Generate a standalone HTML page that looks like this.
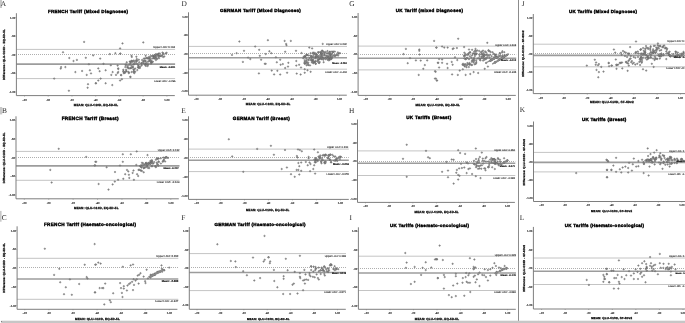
<!DOCTYPE html>
<html><head><meta charset="utf-8"><style>
html,body{margin:0;padding:0;background:#fff;}
body{width:685px;height:323px;overflow:hidden;position:relative;}
svg{position:absolute;left:0;top:0;display:block;filter:grayscale(1) blur(0.3px);}
text{font-family:"Liberation Sans",sans-serif;fill:#222;text-rendering:geometricPrecision;}
.let{font-family:"Liberation Serif",serif;font-size:7.4px;fill:#2a2a2a;}
.tit{font-weight:bold;font-size:5px;fill:#000;stroke:#000;stroke-width:0.4px;}
.tl{font-size:2.9px;font-weight:bold;fill:#333;stroke:#333;stroke-width:0.12px;}
.an{font-size:2.6px;fill:#333;stroke:#333;stroke-width:0.1px;}
.anb{font-size:2.8px;font-weight:bold;fill:#111;stroke:#111;stroke-width:0.15px;}
.xl{font-size:3.3px;font-weight:bold;fill:#111;stroke:#111;stroke-width:0.28px;}
.ax{fill:none;stroke:#777;stroke-width:0.95;}
.tk{stroke:#777;stroke-width:0.5;}
.loa{stroke:#c4c4c4;stroke-width:1.0;}
.zer{stroke:#9a9a9a;stroke-width:0.8;stroke-dasharray:1 1;}
.mn{stroke:#9c9c9c;stroke-width:1.6;}
circle{fill:#999;stroke:#555;stroke-width:0.4;}
.stk{stroke:#8a8a8a;stroke-linecap:round;}
</style></head>
<body><svg width="685" height="323" viewBox="0 0 685 323" xmlns="http://www.w3.org/2000/svg">
<rect x="0" y="0" width="685" height="323" fill="#fff"/>
<line x1="518.5" x2="518.5" y1="0" y2="321" stroke="#8c8c8c" stroke-width="1"/>
<rect x="0" y="0" width="2.0" height="8.0" fill="#c8c8c8"/>
<rect x="0" y="107" width="2.2" height="7.4" fill="#c8c8c8"/>
<rect x="0" y="210.9" width="1.6" height="10.8" fill="#c8c8c8"/>
<text x="0.8" y="5.95" class="let">A</text>
<text x="47.9" y="12.9" class="tit" style="font-size:4.516px" textLength="80.2" lengthAdjust="spacing">FRENCH Tariff (Mixed Diagnoses)</text>
<line x1="16.4" x2="175.1" y1="49.4" y2="49.4" class="loa"/>
<line x1="16.4" x2="175.1" y1="78.6" y2="78.6" class="loa"/>
<line x1="18" x2="175.1" y1="54.5" y2="54.5" class="zer"/>
<line x1="16.4" x2="175.1" y1="64.1" y2="64.1" class="mn"/>
<line x1="15.4" x2="16.4" y1="17.6" y2="17.6" class="tk"/>
<text x="15.3" y="18.55" class="tl" style="font-size:2.7px" text-anchor="end">1.00</text>
<line x1="15.4" x2="16.4" y1="36.23" y2="36.23" class="tk"/>
<text x="15.3" y="37.18" class="tl" style="font-size:2.7px" text-anchor="end">.50</text>
<line x1="15.4" x2="16.4" y1="54.85" y2="54.85" class="tk"/>
<text x="15.3" y="55.8" class="tl" style="font-size:2.7px" text-anchor="end">.00</text>
<line x1="15.4" x2="16.4" y1="73.47" y2="73.47" class="tk"/>
<text x="15.3" y="74.42" class="tl" style="font-size:2.7px" text-anchor="end">-.50</text>
<line x1="15.4" x2="16.4" y1="92.1" y2="92.1" class="tk"/>
<text x="15.3" y="93.05" class="tl" style="font-size:2.7px" text-anchor="end">-1.00</text>
<line x1="24.5" x2="24.5" y1="95.6" y2="96.6" class="tk"/>
<text x="24.5" y="100.5" class="tl" style="font-size:2.7px" text-anchor="middle">-.20</text>
<line x1="48.23" x2="48.23" y1="95.6" y2="96.6" class="tk"/>
<text x="48.23" y="100.5" class="tl" style="font-size:2.7px" text-anchor="middle">.00</text>
<line x1="71.97" x2="71.97" y1="95.6" y2="96.6" class="tk"/>
<text x="71.97" y="100.5" class="tl" style="font-size:2.7px" text-anchor="middle">.20</text>
<line x1="95.7" x2="95.7" y1="95.6" y2="96.6" class="tk"/>
<text x="95.7" y="100.5" class="tl" style="font-size:2.7px" text-anchor="middle">.40</text>
<line x1="119.43" x2="119.43" y1="95.6" y2="96.6" class="tk"/>
<text x="119.43" y="100.5" class="tl" style="font-size:2.7px" text-anchor="middle">.60</text>
<line x1="143.17" x2="143.17" y1="95.6" y2="96.6" class="tk"/>
<text x="143.17" y="100.5" class="tl" style="font-size:2.7px" text-anchor="middle">.80</text>
<line x1="166.9" x2="166.9" y1="95.6" y2="96.6" class="tk"/>
<text x="166.9" y="100.5" class="tl" style="font-size:2.7px" text-anchor="middle">1.00</text>
<circle cx="84.1" cy="41.9" r="0.75"/>
<circle cx="63" cy="52.3" r="0.75"/>
<circle cx="69.3" cy="58" r="0.75"/>
<circle cx="85.8" cy="57.8" r="0.75"/>
<circle cx="93.2" cy="55.4" r="0.75"/>
<circle cx="73.5" cy="61" r="0.75"/>
<circle cx="76.9" cy="59.9" r="0.75"/>
<circle cx="88.9" cy="64.3" r="0.75"/>
<circle cx="61.1" cy="67.1" r="0.75"/>
<circle cx="60.7" cy="68.6" r="0.75"/>
<circle cx="65.4" cy="67.1" r="0.75"/>
<circle cx="75.4" cy="72.1" r="0.75"/>
<circle cx="82.1" cy="71" r="0.75"/>
<circle cx="89.9" cy="70.3" r="0.75"/>
<circle cx="91" cy="73.4" r="0.75"/>
<circle cx="86.7" cy="74.9" r="0.75"/>
<circle cx="54.2" cy="78.6" r="0.75"/>
<circle cx="88" cy="84.2" r="0.75"/>
<circle cx="87.6" cy="87.7" r="0.75"/>
<circle cx="68.9" cy="90.7" r="0.75"/>
<circle cx="95.8" cy="83.3" r="0.75"/>
<circle cx="122.5" cy="43.4" r="0.75"/>
<circle cx="143.3" cy="42.4" r="0.75"/>
<circle cx="120.1" cy="48.4" r="0.75"/>
<circle cx="109.8" cy="54.1" r="0.75"/>
<circle cx="115.4" cy="53.2" r="0.75"/>
<circle cx="120.4" cy="53.6" r="0.75"/>
<circle cx="100.2" cy="58.6" r="0.75"/>
<circle cx="103.5" cy="63.8" r="0.75"/>
<circle cx="110.8" cy="65.3" r="0.75"/>
<circle cx="117.6" cy="65.6" r="0.75"/>
<circle cx="98.3" cy="68.4" r="0.75"/>
<circle cx="99.6" cy="71.2" r="0.75"/>
<circle cx="105.6" cy="70.3" r="0.75"/>
<circle cx="112.6" cy="72.1" r="0.75"/>
<circle cx="111.3" cy="74.9" r="0.75"/>
<circle cx="116" cy="74.9" r="0.75"/>
<circle cx="117.6" cy="73" r="0.75"/>
<circle cx="118.2" cy="68.4" r="0.75"/>
<circle cx="100.6" cy="78.6" r="0.75"/>
<circle cx="98.3" cy="80.5" r="0.75"/>
<circle cx="95.9" cy="83.3" r="0.75"/>
<circle cx="105.6" cy="83.3" r="0.75"/>
<circle cx="112.3" cy="85.1" r="0.75"/>
<circle cx="120.1" cy="80.5" r="0.75"/>
<circle cx="121.9" cy="79.2" r="0.75"/>
<circle cx="130.3" cy="76.8" r="0.75"/>
<circle cx="121" cy="74.9" r="0.75"/>
<circle cx="131.8" cy="56.9" r="0.75"/>
<circle cx="136.8" cy="59.1" r="0.75"/>
<circle cx="120.2" cy="53.7" r="0.75"/>
<circle cx="131.5" cy="55.8" r="0.75"/>
<circle cx="136.4" cy="56.7" r="0.75"/>
<circle cx="145.6" cy="55.8" r="0.75"/>
<circle cx="126.7" cy="62.3" r="0.75"/>
<circle cx="118.3" cy="69" r="0.75"/>
<circle cx="118.3" cy="72" r="0.75"/>
<circle cx="121.2" cy="75.3" r="0.75"/>
<circle cx="130.5" cy="77" r="0.75"/>
<circle cx="134.3" cy="73.2" r="0.75"/>
<circle cx="143.4" cy="62.9" r="0.75"/>
<circle cx="130.5" cy="63" r="0.75"/>
<circle cx="158.5" cy="53.6" r="0.75"/>
<circle cx="126.2" cy="69.7" r="0.75"/>
<circle cx="143.3" cy="61.4" r="0.75"/>
<circle cx="145.9" cy="65.9" r="0.75"/>
<circle cx="152.5" cy="61.8" r="0.75"/>
<circle cx="154.6" cy="58.6" r="0.75"/>
<circle cx="131.6" cy="72" r="0.75"/>
<circle cx="156.9" cy="54.2" r="0.75"/>
<circle cx="130.2" cy="64.1" r="0.75"/>
<circle cx="130.8" cy="68" r="0.75"/>
<circle cx="159" cy="58.3" r="0.75"/>
<circle cx="126.1" cy="64.6" r="0.75"/>
<circle cx="149.7" cy="59.9" r="0.75"/>
<circle cx="161.9" cy="55.6" r="0.75"/>
<circle cx="149.8" cy="61" r="0.75"/>
<circle cx="123.8" cy="73.2" r="0.75"/>
<circle cx="154.4" cy="57.3" r="0.75"/>
<circle cx="149.4" cy="58.1" r="0.75"/>
<circle cx="151.3" cy="62.4" r="0.75"/>
<circle cx="150.7" cy="60.1" r="0.75"/>
<circle cx="139.9" cy="68" r="0.75"/>
<circle cx="153.2" cy="56.1" r="0.75"/>
<circle cx="148.8" cy="58.6" r="0.75"/>
<circle cx="129.8" cy="61.6" r="0.75"/>
<circle cx="131.8" cy="60.8" r="0.75"/>
<circle cx="144.7" cy="58.6" r="0.75"/>
<circle cx="123.4" cy="71.1" r="0.75"/>
<circle cx="150.9" cy="61.5" r="0.75"/>
<circle cx="153.5" cy="56" r="0.75"/>
<circle cx="154.9" cy="55.5" r="0.75"/>
<circle cx="137.9" cy="67.2" r="0.75"/>
<circle cx="152" cy="56.1" r="0.75"/>
<circle cx="123.3" cy="69.7" r="0.75"/>
<circle cx="158.8" cy="55.4" r="0.75"/>
<circle cx="158.2" cy="54.7" r="0.75"/>
<circle cx="165.7" cy="53.4" r="0.75"/>
<circle cx="146.2" cy="58" r="0.75"/>
<circle cx="151.4" cy="63.3" r="0.75"/>
<circle cx="147.8" cy="58.5" r="0.75"/>
<circle cx="145.1" cy="65.1" r="0.75"/>
<circle cx="134.4" cy="62.1" r="0.75"/>
<circle cx="143.9" cy="58.6" r="0.75"/>
<circle cx="132.5" cy="67" r="0.75"/>
<circle cx="138.3" cy="65.4" r="0.75"/>
<circle cx="155.6" cy="54.3" r="0.75"/>
<circle cx="142.1" cy="60" r="0.75"/>
<circle cx="162.8" cy="54.5" r="0.75"/>
<circle cx="155.4" cy="57.3" r="0.75"/>
<circle cx="153.5" cy="55.8" r="0.75"/>
<circle cx="145.7" cy="64.3" r="0.75"/>
<circle cx="124.8" cy="72.9" r="0.75"/>
<circle cx="157.2" cy="58.9" r="0.75"/>
<circle cx="145.7" cy="61.2" r="0.75"/>
<circle cx="130.3" cy="61.7" r="0.75"/>
<circle cx="151" cy="60.6" r="0.75"/>
<circle cx="133.9" cy="72" r="0.75"/>
<circle cx="133.8" cy="60.5" r="0.75"/>
<circle cx="133.5" cy="71.9" r="0.75"/>
<circle cx="125.5" cy="64.9" r="0.75"/>
<circle cx="124.1" cy="72.4" r="0.75"/>
<circle cx="141.4" cy="63.4" r="0.75"/>
<circle cx="147.8" cy="57.9" r="0.75"/>
<circle cx="125.4" cy="71.9" r="0.75"/>
<circle cx="152.7" cy="61.7" r="0.75"/>
<circle cx="148.8" cy="60.9" r="0.75"/>
<circle cx="155.8" cy="56.9" r="0.75"/>
<circle cx="148" cy="64.8" r="0.75"/>
<circle cx="156.7" cy="55.8" r="0.75"/>
<circle cx="141.6" cy="65.5" r="0.75"/>
<circle cx="139.2" cy="62.3" r="0.75"/>
<circle cx="137" cy="63.8" r="0.75"/>
<circle cx="126.5" cy="71.2" r="0.75"/>
<circle cx="153.5" cy="58.2" r="0.75"/>
<circle cx="153.9" cy="57.9" r="0.75"/>
<circle cx="138.5" cy="67.8" r="0.75"/>
<circle cx="127.4" cy="67.5" r="0.75"/>
<circle cx="163.2" cy="57.1" r="0.75"/>
<circle cx="138.8" cy="59.7" r="0.75"/>
<circle cx="145.7" cy="63.7" r="0.75"/>
<circle cx="163.4" cy="53.4" r="0.75"/>
<circle cx="128.6" cy="68.3" r="0.75"/>
<circle cx="144.7" cy="63.6" r="0.75"/>
<circle cx="131.4" cy="61.1" r="0.75"/>
<circle cx="166.6" cy="52.8" r="0.75"/>
<circle cx="127.3" cy="66.1" r="0.75"/>
<circle cx="132.8" cy="67.6" r="0.75"/>
<circle cx="129.9" cy="68.5" r="0.75"/>
<circle cx="146.3" cy="63.1" r="0.75"/>
<circle cx="133.9" cy="71.1" r="0.75"/>
<circle cx="159.8" cy="53.4" r="0.75"/>
<circle cx="160" cy="56.2" r="0.75"/>
<circle cx="136.1" cy="62" r="0.75"/>
<circle cx="138.5" cy="67" r="0.75"/>
<circle cx="139.3" cy="67.5" r="0.75"/>
<circle cx="147.9" cy="61.8" r="0.75"/>
<circle cx="150.3" cy="58" r="0.75"/>
<circle cx="146.8" cy="58.2" r="0.75"/>
<circle cx="140" cy="66.5" r="0.75"/>
<circle cx="131.2" cy="68" r="0.75"/>
<circle cx="137.3" cy="70.1" r="0.75"/>
<circle cx="154.6" cy="55.5" r="0.75"/>
<circle cx="141.6" cy="63" r="0.75"/>
<circle cx="137.2" cy="60.8" r="0.75"/>
<circle cx="160.4" cy="55.9" r="0.75"/>
<circle cx="150.8" cy="56" r="0.75"/>
<circle cx="133.3" cy="64.5" r="0.75"/>
<circle cx="128.2" cy="71.8" r="0.75"/>
<circle cx="147.8" cy="64.1" r="0.75"/>
<circle cx="135.3" cy="71.7" r="0.75"/>
<circle cx="152.3" cy="58.4" r="0.75"/>
<circle cx="155.9" cy="60.1" r="0.75"/>
<circle cx="134.1" cy="64.3" r="0.75"/>
<circle cx="128.7" cy="73.1" r="0.75"/>
<circle cx="143.6" cy="60.8" r="0.75"/>
<circle cx="156.6" cy="58.4" r="0.75"/>
<circle cx="145.1" cy="60.4" r="0.75"/>
<circle cx="136.1" cy="60.4" r="0.75"/>
<circle cx="159" cy="56.5" r="0.75"/>
<circle cx="158.4" cy="54.3" r="0.75"/>
<circle cx="138.4" cy="64.7" r="0.75"/>
<circle cx="123.4" cy="71.7" r="0.75"/>
<circle cx="131.3" cy="65.7" r="0.75"/>
<circle cx="162.5" cy="52.6" r="0.75"/>
<circle cx="155.4" cy="58.5" r="0.75"/>
<circle cx="154.7" cy="55.9" r="0.75"/>
<circle cx="132.8" cy="66.5" r="0.75"/>
<circle cx="149.1" cy="56.7" r="0.75"/>
<circle cx="142.3" cy="63.4" r="0.75"/>
<circle cx="133.5" cy="69.6" r="0.75"/>
<circle cx="135.1" cy="68.5" r="0.75"/>
<circle cx="134.8" cy="63.8" r="0.75"/>
<circle cx="147.6" cy="66" r="0.75"/>
<circle cx="157.9" cy="55.2" r="0.75"/>
<circle cx="132.8" cy="61.4" r="0.75"/>
<circle cx="144.8" cy="61.3" r="0.75"/>
<circle cx="134.1" cy="69.5" r="0.75"/>
<circle cx="158.4" cy="56.9" r="0.75"/>
<circle cx="150.6" cy="63.3" r="0.75"/>
<circle cx="131.9" cy="62" r="0.75"/>
<circle cx="161.7" cy="56.1" r="0.75"/>
<circle cx="125.3" cy="67.1" r="0.75"/>
<circle cx="154.9" cy="57.5" r="0.75"/>
<circle cx="129.1" cy="72.6" r="0.75"/>
<circle cx="125.8" cy="71.4" r="0.75"/>
<circle cx="128.9" cy="64.9" r="0.75"/>
<circle cx="136.4" cy="61" r="0.75"/>
<circle cx="128.3" cy="67.4" r="0.75"/>
<circle cx="164.3" cy="56.4" r="0.75"/>
<path d="M16.4 13.2V95.6H174.8" class="ax"/>
<text x="153.3" y="48.15" class="an" style="font-size:2.705px" textLength="21.8" lengthAdjust="spacingAndGlyphs">Upper LOA: 0.134</text>
<text x="159.7" y="67.75" class="anb" style="font-size:2.566px" textLength="15.4" lengthAdjust="spacingAndGlyphs">Mean: -0.081</text>
<text x="154" y="82.25" class="an" style="font-size:2.561px" textLength="21.5" lengthAdjust="spacingAndGlyphs">Lower LOA: -0.296</text>
<text x="73.8" y="105.75" class="xl" style="font-size:3.008px" textLength="44.2" lengthAdjust="spacing">MEAN: QLU-C10D, EQ-5D-5L</text>
<text x="0" y="0" class="xl" style="font-size:2.957px" textLength="50.7" lengthAdjust="spacing" transform="translate(4.95 80) rotate(-90)">Difference: QLU-C10D - EQ-5D-5L</text>
<text x="181.4" y="5.95" class="let">D</text>
<text x="219.9" y="12.3" class="tit" style="font-size:4.478px" textLength="80.9" lengthAdjust="spacing">GERMAN Tariff (Mixed Diagnoses)</text>
<line x1="188.5" x2="347" y1="46.4" y2="46.4" class="loa"/>
<line x1="188.5" x2="347" y1="69.2" y2="69.2" class="loa"/>
<line x1="190" x2="347" y1="53.5" y2="53.5" class="zer"/>
<line x1="188.5" x2="347" y1="57.7" y2="57.7" class="mn"/>
<line x1="187.5" x2="188.5" y1="16.7" y2="16.7" class="tk"/>
<text x="187.4" y="17.65" class="tl" style="font-size:2.7px" text-anchor="end">1.00</text>
<line x1="187.5" x2="188.5" y1="35.35" y2="35.35" class="tk"/>
<text x="187.4" y="36.3" class="tl" style="font-size:2.7px" text-anchor="end">.50</text>
<line x1="187.5" x2="188.5" y1="54" y2="54" class="tk"/>
<text x="187.4" y="54.95" class="tl" style="font-size:2.7px" text-anchor="end">.00</text>
<line x1="187.5" x2="188.5" y1="72.65" y2="72.65" class="tk"/>
<text x="187.4" y="73.6" class="tl" style="font-size:2.7px" text-anchor="end">-.50</text>
<line x1="187.5" x2="188.5" y1="91.3" y2="91.3" class="tk"/>
<text x="187.4" y="92.25" class="tl" style="font-size:2.7px" text-anchor="end">-1.00</text>
<line x1="196.3" x2="196.3" y1="95.2" y2="96.2" class="tk"/>
<text x="196.3" y="100.1" class="tl" style="font-size:2.7px" text-anchor="middle">-.20</text>
<line x1="220.17" x2="220.17" y1="95.2" y2="96.2" class="tk"/>
<text x="220.17" y="100.1" class="tl" style="font-size:2.7px" text-anchor="middle">.00</text>
<line x1="244.03" x2="244.03" y1="95.2" y2="96.2" class="tk"/>
<text x="244.03" y="100.1" class="tl" style="font-size:2.7px" text-anchor="middle">.20</text>
<line x1="267.9" x2="267.9" y1="95.2" y2="96.2" class="tk"/>
<text x="267.9" y="100.1" class="tl" style="font-size:2.7px" text-anchor="middle">.40</text>
<line x1="291.77" x2="291.77" y1="95.2" y2="96.2" class="tk"/>
<text x="291.77" y="100.1" class="tl" style="font-size:2.7px" text-anchor="middle">.60</text>
<line x1="315.63" x2="315.63" y1="95.2" y2="96.2" class="tk"/>
<text x="315.63" y="100.1" class="tl" style="font-size:2.7px" text-anchor="middle">.80</text>
<line x1="339.5" x2="339.5" y1="95.2" y2="96.2" class="tk"/>
<text x="339.5" y="100.1" class="tl" style="font-size:2.7px" text-anchor="middle">1.00</text>
<circle cx="239.4" cy="41.5" r="0.75"/>
<circle cx="255.2" cy="46.5" r="0.75"/>
<circle cx="259.2" cy="49.8" r="0.75"/>
<circle cx="244" cy="50.8" r="0.75"/>
<circle cx="232" cy="54.9" r="0.75"/>
<circle cx="236.6" cy="53.2" r="0.75"/>
<circle cx="259.8" cy="55.8" r="0.75"/>
<circle cx="248.1" cy="57.6" r="0.75"/>
<circle cx="250.3" cy="59.1" r="0.75"/>
<circle cx="261.1" cy="59.7" r="0.75"/>
<circle cx="242.9" cy="61.9" r="0.75"/>
<circle cx="258.9" cy="73.4" r="0.75"/>
<circle cx="264.8" cy="63.8" r="0.75"/>
<circle cx="267.9" cy="40.2" r="0.75"/>
<circle cx="284.6" cy="40.9" r="0.75"/>
<circle cx="290.8" cy="40.9" r="0.75"/>
<circle cx="286.1" cy="43.9" r="0.75"/>
<circle cx="286.5" cy="45.2" r="0.75"/>
<circle cx="309.3" cy="47.6" r="0.75"/>
<circle cx="312.1" cy="48.4" r="0.75"/>
<circle cx="322.7" cy="43.9" r="0.75"/>
<circle cx="269.4" cy="51.3" r="0.75"/>
<circle cx="271.3" cy="53.2" r="0.75"/>
<circle cx="265.7" cy="54.1" r="0.75"/>
<circle cx="285.2" cy="51.7" r="0.75"/>
<circle cx="296" cy="50.8" r="0.75"/>
<circle cx="301.5" cy="53" r="0.75"/>
<circle cx="306.5" cy="54.5" r="0.75"/>
<circle cx="310.6" cy="53.2" r="0.75"/>
<circle cx="275.9" cy="57.3" r="0.75"/>
<circle cx="280.2" cy="59.7" r="0.75"/>
<circle cx="276.8" cy="62.3" r="0.75"/>
<circle cx="265.7" cy="63.8" r="0.75"/>
<circle cx="280.6" cy="64.7" r="0.75"/>
<circle cx="282.8" cy="64.1" r="0.75"/>
<circle cx="288.4" cy="62.8" r="0.75"/>
<circle cx="288" cy="66.6" r="0.75"/>
<circle cx="285.2" cy="68" r="0.75"/>
<circle cx="296.3" cy="61" r="0.75"/>
<circle cx="296.3" cy="65.6" r="0.75"/>
<circle cx="299.1" cy="64.7" r="0.75"/>
<circle cx="301" cy="67.5" r="0.75"/>
<circle cx="304.7" cy="69.3" r="0.75"/>
<circle cx="307.5" cy="70.3" r="0.75"/>
<circle cx="310.6" cy="71.8" r="0.75"/>
<circle cx="271.7" cy="70.6" r="0.75"/>
<circle cx="277.4" cy="70.8" r="0.75"/>
<circle cx="274.1" cy="74.4" r="0.75"/>
<circle cx="280.2" cy="74.5" r="0.75"/>
<circle cx="287.1" cy="72.7" r="0.75"/>
<circle cx="296.7" cy="73.6" r="0.75"/>
<circle cx="300.6" cy="74.5" r="0.75"/>
<circle cx="304.7" cy="72.7" r="0.75"/>
<circle cx="311.4" cy="59.8" r="0.75"/>
<circle cx="318.8" cy="56.1" r="0.75"/>
<circle cx="317.1" cy="55.1" r="0.75"/>
<circle cx="313.1" cy="52.5" r="0.75"/>
<circle cx="320.6" cy="52.6" r="0.75"/>
<circle cx="318.5" cy="52.3" r="0.75"/>
<circle cx="329.2" cy="58.6" r="0.75"/>
<circle cx="304.9" cy="56.3" r="0.75"/>
<circle cx="321.3" cy="59.1" r="0.75"/>
<circle cx="314.9" cy="53.9" r="0.75"/>
<circle cx="315.7" cy="63.8" r="0.75"/>
<circle cx="312.5" cy="60.4" r="0.75"/>
<circle cx="318.1" cy="56.4" r="0.75"/>
<circle cx="321.8" cy="54.8" r="0.75"/>
<circle cx="311.2" cy="60.5" r="0.75"/>
<circle cx="311.6" cy="57.7" r="0.75"/>
<circle cx="323.3" cy="59.7" r="0.75"/>
<circle cx="315.7" cy="63.7" r="0.75"/>
<circle cx="326.1" cy="57.6" r="0.75"/>
<circle cx="316.5" cy="54.4" r="0.75"/>
<circle cx="322.8" cy="53.7" r="0.75"/>
<circle cx="314.8" cy="52.8" r="0.75"/>
<circle cx="306.4" cy="60.9" r="0.75"/>
<circle cx="319.7" cy="62" r="0.75"/>
<circle cx="332.8" cy="56.1" r="0.75"/>
<circle cx="312.1" cy="61.1" r="0.75"/>
<circle cx="315.2" cy="61.8" r="0.75"/>
<circle cx="329.4" cy="59.7" r="0.75"/>
<circle cx="332.9" cy="51.9" r="0.75"/>
<circle cx="327.9" cy="53.6" r="0.75"/>
<circle cx="318.4" cy="59.8" r="0.75"/>
<circle cx="329.6" cy="51.8" r="0.75"/>
<circle cx="307.1" cy="55.1" r="0.75"/>
<circle cx="323.1" cy="57.5" r="0.75"/>
<circle cx="314.2" cy="62.4" r="0.75"/>
<circle cx="313.3" cy="56.1" r="0.75"/>
<circle cx="328.9" cy="58.5" r="0.75"/>
<circle cx="338" cy="53.9" r="0.75"/>
<circle cx="307.1" cy="55" r="0.75"/>
<circle cx="324" cy="52.2" r="0.75"/>
<circle cx="312.9" cy="53.5" r="0.75"/>
<circle cx="316.4" cy="54" r="0.75"/>
<circle cx="304.9" cy="63.8" r="0.75"/>
<circle cx="320.9" cy="56.4" r="0.75"/>
<circle cx="327.5" cy="59.7" r="0.75"/>
<circle cx="319.3" cy="62.9" r="0.75"/>
<circle cx="331.1" cy="54.8" r="0.75"/>
<circle cx="317.8" cy="60.9" r="0.75"/>
<circle cx="311.1" cy="56" r="0.75"/>
<circle cx="326.7" cy="55.5" r="0.75"/>
<circle cx="336.9" cy="55" r="0.75"/>
<circle cx="315.2" cy="61.5" r="0.75"/>
<circle cx="330.7" cy="58.5" r="0.75"/>
<circle cx="315.8" cy="56.7" r="0.75"/>
<circle cx="321.6" cy="56.3" r="0.75"/>
<circle cx="336" cy="55" r="0.75"/>
<circle cx="306.6" cy="65.3" r="0.75"/>
<circle cx="339.1" cy="53.4" r="0.75"/>
<circle cx="329.3" cy="52.8" r="0.75"/>
<circle cx="308.1" cy="59.8" r="0.75"/>
<circle cx="327" cy="53.3" r="0.75"/>
<circle cx="321.7" cy="58.8" r="0.75"/>
<circle cx="327.8" cy="56.5" r="0.75"/>
<circle cx="311.2" cy="59.3" r="0.75"/>
<circle cx="322.1" cy="50.5" r="0.75"/>
<circle cx="319.5" cy="59.2" r="0.75"/>
<circle cx="337.9" cy="52.4" r="0.75"/>
<circle cx="321.2" cy="53.6" r="0.75"/>
<circle cx="305" cy="63.5" r="0.75"/>
<circle cx="312" cy="62.5" r="0.75"/>
<circle cx="313.1" cy="60" r="0.75"/>
<circle cx="323.6" cy="62.2" r="0.75"/>
<circle cx="331.8" cy="58.5" r="0.75"/>
<circle cx="332.8" cy="52.4" r="0.75"/>
<circle cx="340" cy="53.2" r="0.75"/>
<circle cx="327.9" cy="56.7" r="0.75"/>
<circle cx="315.4" cy="54.9" r="0.75"/>
<circle cx="313.1" cy="59.3" r="0.75"/>
<circle cx="320.2" cy="52" r="0.75"/>
<circle cx="310" cy="65.4" r="0.75"/>
<circle cx="330.5" cy="55.6" r="0.75"/>
<circle cx="318" cy="52.3" r="0.75"/>
<circle cx="318.6" cy="62.7" r="0.75"/>
<circle cx="315.7" cy="60.9" r="0.75"/>
<circle cx="324.5" cy="54.4" r="0.75"/>
<circle cx="313.4" cy="63.2" r="0.75"/>
<circle cx="330.7" cy="59.3" r="0.75"/>
<circle cx="304.9" cy="56.5" r="0.75"/>
<circle cx="328.9" cy="60.4" r="0.75"/>
<circle cx="312.1" cy="56.5" r="0.75"/>
<circle cx="323.2" cy="51.5" r="0.75"/>
<circle cx="305.9" cy="55.6" r="0.75"/>
<circle cx="326.6" cy="57.3" r="0.75"/>
<circle cx="320.2" cy="54.9" r="0.75"/>
<circle cx="305" cy="57.2" r="0.75"/>
<circle cx="310.5" cy="55.7" r="0.75"/>
<circle cx="317.5" cy="61.5" r="0.75"/>
<circle cx="308.8" cy="60.1" r="0.75"/>
<circle cx="330.7" cy="53.9" r="0.75"/>
<circle cx="315.8" cy="58.3" r="0.75"/>
<circle cx="306.7" cy="62.2" r="0.75"/>
<circle cx="321.8" cy="51.9" r="0.75"/>
<circle cx="313.7" cy="62.1" r="0.75"/>
<circle cx="319.7" cy="58.7" r="0.75"/>
<circle cx="334.8" cy="51.6" r="0.75"/>
<circle cx="308.4" cy="65" r="0.75"/>
<circle cx="317.9" cy="59.5" r="0.75"/>
<circle cx="308.3" cy="62.7" r="0.75"/>
<circle cx="329.6" cy="52.4" r="0.75"/>
<circle cx="304.3" cy="56.5" r="0.75"/>
<circle cx="315" cy="57.6" r="0.75"/>
<circle cx="313.9" cy="61.5" r="0.75"/>
<circle cx="316.5" cy="56.7" r="0.75"/>
<circle cx="316.1" cy="56.7" r="0.75"/>
<circle cx="304.4" cy="63" r="0.75"/>
<circle cx="322.6" cy="58.5" r="0.75"/>
<circle cx="314.4" cy="57.5" r="0.75"/>
<circle cx="331" cy="57.6" r="0.75"/>
<circle cx="325.2" cy="55.7" r="0.75"/>
<circle cx="325.6" cy="59.1" r="0.75"/>
<circle cx="321.4" cy="58" r="0.75"/>
<circle cx="312.8" cy="62.3" r="0.75"/>
<circle cx="335.2" cy="56.2" r="0.75"/>
<circle cx="334.1" cy="55.1" r="0.75"/>
<circle cx="304.7" cy="61.8" r="0.75"/>
<circle cx="331.1" cy="59" r="0.75"/>
<circle cx="330.5" cy="56.5" r="0.75"/>
<circle cx="332.2" cy="56.8" r="0.75"/>
<circle cx="316.9" cy="56.9" r="0.75"/>
<circle cx="327.8" cy="58.5" r="0.75"/>
<circle cx="318.3" cy="58.3" r="0.75"/>
<circle cx="307.2" cy="63.5" r="0.75"/>
<circle cx="303.7" cy="56.7" r="0.75"/>
<circle cx="328.7" cy="56" r="0.75"/>
<circle cx="306.5" cy="61.5" r="0.75"/>
<circle cx="324.8" cy="53.1" r="0.75"/>
<circle cx="308.7" cy="55.4" r="0.75"/>
<circle cx="322.3" cy="56" r="0.75"/>
<circle cx="334.5" cy="55.6" r="0.75"/>
<circle cx="329" cy="53.6" r="0.75"/>
<circle cx="330.3" cy="58.9" r="0.75"/>
<circle cx="304.9" cy="62.8" r="0.75"/>
<circle cx="329.7" cy="56.7" r="0.75"/>
<circle cx="319.8" cy="57.5" r="0.75"/>
<circle cx="331.1" cy="51.6" r="0.75"/>
<circle cx="324.1" cy="58.5" r="0.75"/>
<circle cx="308.3" cy="64.7" r="0.75"/>
<circle cx="333.1" cy="51.5" r="0.75"/>
<circle cx="325.7" cy="51.9" r="0.75"/>
<circle cx="329.8" cy="54.5" r="0.75"/>
<circle cx="330.1" cy="54.1" r="0.75"/>
<circle cx="303.3" cy="58.3" r="0.75"/>
<circle cx="313.6" cy="53.9" r="0.75"/>
<circle cx="320.9" cy="54.2" r="0.75"/>
<circle cx="325.7" cy="58.4" r="0.75"/>
<circle cx="332" cy="54" r="0.75"/>
<circle cx="338.1" cy="55.6" r="0.75"/>
<circle cx="311.4" cy="57" r="0.75"/>
<circle cx="324" cy="55.4" r="0.75"/>
<circle cx="327.5" cy="51.1" r="0.75"/>
<circle cx="306.4" cy="58.8" r="0.75"/>
<circle cx="304.8" cy="60.3" r="0.75"/>
<circle cx="322.3" cy="51.2" r="0.75"/>
<circle cx="309.5" cy="58.2" r="0.75"/>
<circle cx="321.5" cy="53.1" r="0.75"/>
<path d="M188.5 12.3V95.2H346.8" class="ax"/>
<text x="326.1" y="45.25" class="an" style="font-size:2.568px" textLength="20.7" lengthAdjust="spacingAndGlyphs">Upper LOA: 0.202</text>
<text x="332.3" y="64.25" class="anb" style="font-size:2.416px" textLength="14.5" lengthAdjust="spacingAndGlyphs">Mean: -0.108</text>
<text x="325" y="72.85" class="an" style="font-size:2.597px" textLength="21.8" lengthAdjust="spacingAndGlyphs">Lower LOA: -0.418</text>
<text x="245.8" y="105.45" class="xl" style="font-size:3.028px" textLength="44.5" lengthAdjust="spacing">MEAN: QLU-C10D, EQ-5D-5L</text>
<text x="349.2" y="5.95" class="let">G</text>
<text x="395.8" y="12.4" class="tit" style="font-size:4.542px" textLength="67.2" lengthAdjust="spacing">UK Tariff (mixed Diagnoses)</text>
<line x1="358.1" x2="516.2" y1="46.1" y2="46.1" class="loa"/>
<line x1="358.1" x2="516.2" y1="69.9" y2="69.9" class="loa"/>
<line x1="360" x2="516.2" y1="54.5" y2="54.5" class="zer"/>
<line x1="358.1" x2="516.2" y1="58.3" y2="58.3" class="mn"/>
<line x1="357.1" x2="358.1" y1="17.1" y2="17.1" class="tk"/>
<text x="357" y="18.05" class="tl" style="font-size:2.7px" text-anchor="end">1.00</text>
<line x1="357.1" x2="358.1" y1="35.8" y2="35.8" class="tk"/>
<text x="357" y="36.75" class="tl" style="font-size:2.7px" text-anchor="end">.50</text>
<line x1="357.1" x2="358.1" y1="54.5" y2="54.5" class="tk"/>
<text x="357" y="55.45" class="tl" style="font-size:2.7px" text-anchor="end">.00</text>
<line x1="357.1" x2="358.1" y1="73.2" y2="73.2" class="tk"/>
<text x="357" y="74.15" class="tl" style="font-size:2.7px" text-anchor="end">-.50</text>
<line x1="357.1" x2="358.1" y1="91.9" y2="91.9" class="tk"/>
<text x="357" y="92.85" class="tl" style="font-size:2.7px" text-anchor="end">-1.00</text>
<line x1="365.8" x2="365.8" y1="95.4" y2="96.4" class="tk"/>
<text x="365.8" y="100.3" class="tl" style="font-size:2.7px" text-anchor="middle">-.20</text>
<line x1="389.52" x2="389.52" y1="95.4" y2="96.4" class="tk"/>
<text x="389.52" y="100.3" class="tl" style="font-size:2.7px" text-anchor="middle">.00</text>
<line x1="413.23" x2="413.23" y1="95.4" y2="96.4" class="tk"/>
<text x="413.23" y="100.3" class="tl" style="font-size:2.7px" text-anchor="middle">.20</text>
<line x1="436.95" x2="436.95" y1="95.4" y2="96.4" class="tk"/>
<text x="436.95" y="100.3" class="tl" style="font-size:2.7px" text-anchor="middle">.40</text>
<line x1="460.67" x2="460.67" y1="95.4" y2="96.4" class="tk"/>
<text x="460.67" y="100.3" class="tl" style="font-size:2.7px" text-anchor="middle">.60</text>
<line x1="484.38" x2="484.38" y1="95.4" y2="96.4" class="tk"/>
<text x="484.38" y="100.3" class="tl" style="font-size:2.7px" text-anchor="middle">.80</text>
<line x1="508.1" x2="508.1" y1="95.4" y2="96.4" class="tk"/>
<text x="508.1" y="100.3" class="tl" style="font-size:2.7px" text-anchor="middle">1.00</text>
<circle cx="434.1" cy="40.9" r="0.75"/>
<circle cx="436.3" cy="47.6" r="0.75"/>
<circle cx="405.9" cy="48.9" r="0.75"/>
<circle cx="419.3" cy="49.5" r="0.75"/>
<circle cx="419.3" cy="50.8" r="0.75"/>
<circle cx="403.5" cy="54.1" r="0.75"/>
<circle cx="419.6" cy="54.5" r="0.75"/>
<circle cx="410" cy="58.2" r="0.75"/>
<circle cx="415.9" cy="60.4" r="0.75"/>
<circle cx="420.7" cy="60.6" r="0.75"/>
<circle cx="427.2" cy="60.4" r="0.75"/>
<circle cx="407.7" cy="63.2" r="0.75"/>
<circle cx="424.8" cy="65.1" r="0.75"/>
<circle cx="423.3" cy="68.8" r="0.75"/>
<circle cx="437.8" cy="62.8" r="0.75"/>
<circle cx="435.6" cy="71.8" r="0.75"/>
<circle cx="418.7" cy="74.9" r="0.75"/>
<circle cx="435" cy="78.6" r="0.75"/>
<circle cx="436.9" cy="80.5" r="0.75"/>
<circle cx="458.2" cy="38.7" r="0.75"/>
<circle cx="487.3" cy="42.8" r="0.75"/>
<circle cx="436.5" cy="47.6" r="0.75"/>
<circle cx="442.1" cy="46.5" r="0.75"/>
<circle cx="444.3" cy="47.6" r="0.75"/>
<circle cx="447.6" cy="47.6" r="0.75"/>
<circle cx="452.6" cy="48.9" r="0.75"/>
<circle cx="453.6" cy="48.4" r="0.75"/>
<circle cx="456.9" cy="48" r="0.75"/>
<circle cx="464.1" cy="47.1" r="0.75"/>
<circle cx="469" cy="49.5" r="0.75"/>
<circle cx="472.1" cy="49.8" r="0.75"/>
<circle cx="475.5" cy="48.9" r="0.75"/>
<circle cx="488.5" cy="50.2" r="0.75"/>
<circle cx="439.1" cy="59.1" r="0.75"/>
<circle cx="442.1" cy="59.5" r="0.75"/>
<circle cx="438.3" cy="62.8" r="0.75"/>
<circle cx="442.1" cy="62.8" r="0.75"/>
<circle cx="447.1" cy="63.8" r="0.75"/>
<circle cx="451.7" cy="61.9" r="0.75"/>
<circle cx="452.6" cy="64.7" r="0.75"/>
<circle cx="455" cy="57.3" r="0.75"/>
<circle cx="457.3" cy="60.1" r="0.75"/>
<circle cx="439.1" cy="67.5" r="0.75"/>
<circle cx="447.6" cy="68" r="0.75"/>
<circle cx="462.5" cy="64.7" r="0.75"/>
<circle cx="459.7" cy="70.6" r="0.75"/>
<circle cx="462.8" cy="69.3" r="0.75"/>
<circle cx="452.1" cy="74.4" r="0.75"/>
<circle cx="457.8" cy="74.9" r="0.75"/>
<circle cx="465.6" cy="74.9" r="0.75"/>
<circle cx="470.3" cy="74" r="0.75"/>
<circle cx="473.6" cy="72.1" r="0.75"/>
<circle cx="478.2" cy="73" r="0.75"/>
<circle cx="484.7" cy="68.8" r="0.75"/>
<circle cx="487.9" cy="66.6" r="0.75"/>
<circle cx="435.9" cy="78.6" r="0.75"/>
<circle cx="436.9" cy="80.5" r="0.75"/>
<circle cx="435" cy="71.2" r="0.75"/>
<circle cx="479.9" cy="58.7" r="0.75"/>
<circle cx="465.4" cy="58.8" r="0.75"/>
<circle cx="486.1" cy="52.4" r="0.75"/>
<circle cx="474.9" cy="56" r="0.75"/>
<circle cx="483.1" cy="60.6" r="0.75"/>
<circle cx="465.7" cy="59.3" r="0.75"/>
<circle cx="466.8" cy="65.6" r="0.75"/>
<circle cx="463.4" cy="64.9" r="0.75"/>
<circle cx="464.9" cy="64.3" r="0.75"/>
<circle cx="479.5" cy="56" r="0.75"/>
<circle cx="495.1" cy="54.7" r="0.75"/>
<circle cx="476.4" cy="62.1" r="0.75"/>
<circle cx="481.6" cy="54.2" r="0.75"/>
<circle cx="499.9" cy="53.2" r="0.75"/>
<circle cx="468.4" cy="54.6" r="0.75"/>
<circle cx="476.3" cy="54.3" r="0.75"/>
<circle cx="490.1" cy="54.7" r="0.75"/>
<circle cx="484.5" cy="54.6" r="0.75"/>
<circle cx="499.7" cy="53.3" r="0.75"/>
<circle cx="472" cy="55.4" r="0.75"/>
<circle cx="476.2" cy="63.1" r="0.75"/>
<circle cx="485.2" cy="51.4" r="0.75"/>
<circle cx="494.8" cy="54.4" r="0.75"/>
<circle cx="471.4" cy="57.5" r="0.75"/>
<circle cx="467.8" cy="64.2" r="0.75"/>
<circle cx="495.6" cy="56.1" r="0.75"/>
<circle cx="496" cy="56.8" r="0.75"/>
<circle cx="474.3" cy="60.7" r="0.75"/>
<circle cx="483.5" cy="56.8" r="0.75"/>
<circle cx="464.8" cy="66.5" r="0.75"/>
<circle cx="468.2" cy="53.7" r="0.75"/>
<circle cx="502.1" cy="56.2" r="0.75"/>
<circle cx="502" cy="52.6" r="0.75"/>
<circle cx="470.3" cy="52.4" r="0.75"/>
<circle cx="481.5" cy="56.7" r="0.75"/>
<circle cx="467.2" cy="54.9" r="0.75"/>
<circle cx="502.4" cy="51.3" r="0.75"/>
<circle cx="469.9" cy="56.3" r="0.75"/>
<circle cx="464.1" cy="55.5" r="0.75"/>
<circle cx="469.9" cy="52.2" r="0.75"/>
<circle cx="484.7" cy="59.7" r="0.75"/>
<circle cx="465.5" cy="54" r="0.75"/>
<circle cx="465.3" cy="55.6" r="0.75"/>
<circle cx="483.7" cy="52.9" r="0.75"/>
<circle cx="476.2" cy="60.2" r="0.75"/>
<circle cx="474.7" cy="64.3" r="0.75"/>
<circle cx="482" cy="53.4" r="0.75"/>
<circle cx="463.1" cy="63.7" r="0.75"/>
<circle cx="479.2" cy="50.9" r="0.75"/>
<circle cx="469" cy="53.1" r="0.75"/>
<circle cx="493.7" cy="53.8" r="0.75"/>
<circle cx="475.1" cy="50.7" r="0.75"/>
<circle cx="473.2" cy="61.1" r="0.75"/>
<circle cx="477.9" cy="58.5" r="0.75"/>
<circle cx="488.8" cy="55.7" r="0.75"/>
<circle cx="487" cy="57.5" r="0.75"/>
<circle cx="485.2" cy="58.3" r="0.75"/>
<circle cx="469" cy="59.2" r="0.75"/>
<circle cx="504.3" cy="55.2" r="0.75"/>
<circle cx="469.4" cy="63" r="0.75"/>
<circle cx="472.1" cy="60.5" r="0.75"/>
<circle cx="468.8" cy="67.1" r="0.75"/>
<circle cx="474.2" cy="51.7" r="0.75"/>
<circle cx="491.6" cy="56.2" r="0.75"/>
<circle cx="486.1" cy="59" r="0.75"/>
<circle cx="483.3" cy="54.8" r="0.75"/>
<circle cx="481.9" cy="51.6" r="0.75"/>
<circle cx="483.4" cy="58.7" r="0.75"/>
<circle cx="474" cy="58" r="0.75"/>
<circle cx="465.6" cy="64.4" r="0.75"/>
<circle cx="472.1" cy="64.9" r="0.75"/>
<circle cx="496.3" cy="54.6" r="0.75"/>
<circle cx="480.3" cy="60" r="0.75"/>
<circle cx="482.7" cy="55.2" r="0.75"/>
<circle cx="476.7" cy="53.5" r="0.75"/>
<circle cx="471.3" cy="65" r="0.75"/>
<circle cx="469.6" cy="64.7" r="0.75"/>
<circle cx="475" cy="54.4" r="0.75"/>
<circle cx="484" cy="56.2" r="0.75"/>
<circle cx="489.7" cy="51.2" r="0.75"/>
<circle cx="490.7" cy="52" r="0.75"/>
<circle cx="475.4" cy="53.3" r="0.75"/>
<circle cx="467.4" cy="63.1" r="0.75"/>
<circle cx="464.5" cy="65.6" r="0.75"/>
<circle cx="483.2" cy="56.9" r="0.75"/>
<circle cx="477.2" cy="50.4" r="0.75"/>
<circle cx="468.9" cy="64.3" r="0.75"/>
<circle cx="471.8" cy="61.8" r="0.75"/>
<circle cx="484.2" cy="55.7" r="0.75"/>
<circle cx="473.7" cy="53.4" r="0.75"/>
<circle cx="502.5" cy="56" r="0.75"/>
<circle cx="495.3" cy="56" r="0.75"/>
<circle cx="474" cy="59.4" r="0.75"/>
<circle cx="483" cy="50.6" r="0.75"/>
<circle cx="472.7" cy="53.6" r="0.75"/>
<circle cx="487" cy="54.3" r="0.75"/>
<circle cx="476.1" cy="51.3" r="0.75"/>
<circle cx="464.2" cy="56.4" r="0.75"/>
<circle cx="489.5" cy="57.5" r="0.75"/>
<circle cx="479.5" cy="54.2" r="0.75"/>
<circle cx="467.2" cy="57.8" r="0.75"/>
<circle cx="472.8" cy="59.7" r="0.75"/>
<circle cx="470.1" cy="63.8" r="0.75"/>
<circle cx="464.4" cy="52.7" r="0.75"/>
<circle cx="485.7" cy="54.9" r="0.75"/>
<circle cx="475.7" cy="63.8" r="0.75"/>
<circle cx="481.6" cy="57.8" r="0.75"/>
<circle cx="466.6" cy="58.5" r="0.75"/>
<circle cx="473.6" cy="62.5" r="0.75"/>
<circle cx="480.8" cy="52.3" r="0.75"/>
<circle cx="480.3" cy="60.3" r="0.75"/>
<circle cx="494" cy="57.3" r="0.75"/>
<circle cx="488.5" cy="50.8" r="0.75"/>
<circle cx="492.6" cy="52.3" r="0.75"/>
<circle cx="464.4" cy="58.5" r="0.75"/>
<circle cx="478.8" cy="58.4" r="0.75"/>
<circle cx="466.5" cy="67.2" r="0.75"/>
<circle cx="487.3" cy="55.7" r="0.75"/>
<circle cx="504.3" cy="52.2" r="0.75"/>
<circle cx="475.1" cy="54" r="0.75"/>
<circle cx="498.4" cy="56.4" r="0.75"/>
<circle cx="491.5" cy="60" r="0.75"/>
<circle cx="497.4" cy="57" r="0.75"/>
<circle cx="490.8" cy="60.3" r="0.75"/>
<circle cx="490.1" cy="60.7" r="0.75"/>
<circle cx="490" cy="60.8" r="0.75"/>
<circle cx="492.6" cy="59.5" r="0.75"/>
<circle cx="491.2" cy="60.5" r="0.75"/>
<circle cx="497.1" cy="57.2" r="0.75"/>
<circle cx="496.4" cy="57.5" r="0.75"/>
<circle cx="499.7" cy="55.9" r="0.75"/>
<circle cx="491.9" cy="59.7" r="0.75"/>
<circle cx="497" cy="57.4" r="0.75"/>
<circle cx="490.6" cy="60.3" r="0.75"/>
<circle cx="491.7" cy="59.8" r="0.75"/>
<circle cx="494.4" cy="58.4" r="0.75"/>
<circle cx="500.2" cy="55.7" r="0.75"/>
<circle cx="486.2" cy="62.9" r="0.75"/>
<circle cx="497.9" cy="56.7" r="0.75"/>
<circle cx="496.2" cy="57.8" r="0.75"/>
<circle cx="493.9" cy="58.8" r="0.75"/>
<circle cx="493.8" cy="59.1" r="0.75"/>
<circle cx="494.8" cy="62.6" r="0.75"/>
<circle cx="504.5" cy="56.6" r="0.75"/>
<circle cx="501.7" cy="58.3" r="0.75"/>
<circle cx="495.2" cy="62.6" r="0.75"/>
<circle cx="503.2" cy="57.5" r="0.75"/>
<circle cx="499.1" cy="59.9" r="0.75"/>
<circle cx="500" cy="59.6" r="0.75"/>
<circle cx="502" cy="58.2" r="0.75"/>
<circle cx="504.6" cy="56.3" r="0.75"/>
<circle cx="503.8" cy="57.2" r="0.75"/>
<circle cx="498.5" cy="60.2" r="0.75"/>
<circle cx="501" cy="58.6" r="0.75"/>
<circle cx="503" cy="57.3" r="0.75"/>
<circle cx="506.9" cy="55.1" r="0.75"/>
<circle cx="495.1" cy="62.1" r="0.75"/>
<circle cx="505.5" cy="55.9" r="0.75"/>
<circle cx="500.5" cy="58.9" r="0.75"/>
<circle cx="506" cy="55.6" r="0.75"/>
<circle cx="504" cy="56.8" r="0.75"/>
<circle cx="506.7" cy="55.1" r="0.75"/>
<circle cx="497.5" cy="61.1" r="0.75"/>
<circle cx="501.8" cy="58.5" r="0.75"/>
<circle cx="495.9" cy="61.9" r="0.75"/>
<circle cx="495.1" cy="62.5" r="0.75"/>
<circle cx="499.6" cy="59.8" r="0.75"/>
<circle cx="507.5" cy="54.6" r="0.75"/>
<circle cx="498.3" cy="60.3" r="0.75"/>
<circle cx="507.1" cy="55" r="0.75"/>
<line x1="485.6" y1="63" x2="500.2" y2="55.5" class="stk" style="stroke-width:1.3"/>
<line x1="492.6" y1="63.9" x2="508.5" y2="54" class="stk" style="stroke-width:1.3"/>
<path d="M358.1 13V95.4H515.8" class="ax"/>
<text x="495.3" y="46.15" class="an" style="font-size:2.593px" textLength="20.9" lengthAdjust="spacingAndGlyphs">Upper LOA: 0.208</text>
<text x="501" y="61.25" class="anb" style="font-size:2.556px" textLength="15.2" lengthAdjust="spacingAndGlyphs">Mean: -0.113</text>
<text x="493.9" y="73.25" class="an" style="font-size:2.657px" textLength="22.3" lengthAdjust="spacingAndGlyphs">Lower LOA: -0.435</text>
<text x="415.6" y="105.75" class="xl" style="font-size:3.008px" textLength="44.2" lengthAdjust="spacing">MEAN: QLU-C10D, EQ-5D-5L</text>
<text x="521.7" y="5.75" class="let">J</text>
<text x="569" y="12.8" class="tit" style="font-size:4.429px" textLength="68" lengthAdjust="spacing">UK Tariffs (Mixed Diagnoses)</text>
<line x1="533.3" x2="686" y1="44.2" y2="44.2" class="loa"/>
<line x1="533.3" x2="686" y1="66.8" y2="66.8" class="loa"/>
<line x1="535" x2="686" y1="53.5" y2="53.5" class="zer"/>
<line x1="533.3" x2="686" y1="55.4" y2="55.4" class="mn"/>
<line x1="532.3" x2="533.3" y1="17.7" y2="17.7" class="tk"/>
<text x="532.2" y="18.65" class="tl" style="font-size:2.7px" text-anchor="end">1.00</text>
<line x1="532.3" x2="533.3" y1="35.9" y2="35.9" class="tk"/>
<text x="532.2" y="36.85" class="tl" style="font-size:2.7px" text-anchor="end">.50</text>
<line x1="532.3" x2="533.3" y1="54.1" y2="54.1" class="tk"/>
<text x="532.2" y="55.05" class="tl" style="font-size:2.7px" text-anchor="end">.00</text>
<line x1="532.3" x2="533.3" y1="72.3" y2="72.3" class="tk"/>
<text x="532.2" y="73.25" class="tl" style="font-size:2.7px" text-anchor="end">-.50</text>
<line x1="532.3" x2="533.3" y1="90.5" y2="90.5" class="tk"/>
<text x="532.2" y="91.45" class="tl" style="font-size:2.7px" text-anchor="end">-1.00</text>
<line x1="540.7" x2="540.7" y1="93.6" y2="94.6" class="tk"/>
<text x="540.7" y="98.5" class="tl" style="font-size:2.7px" text-anchor="middle">-.20</text>
<line x1="564" x2="564" y1="93.6" y2="94.6" class="tk"/>
<text x="564" y="98.5" class="tl" style="font-size:2.7px" text-anchor="middle">.00</text>
<line x1="587.3" x2="587.3" y1="93.6" y2="94.6" class="tk"/>
<text x="587.3" y="98.5" class="tl" style="font-size:2.7px" text-anchor="middle">.20</text>
<line x1="610.6" x2="610.6" y1="93.6" y2="94.6" class="tk"/>
<text x="610.6" y="98.5" class="tl" style="font-size:2.7px" text-anchor="middle">.40</text>
<line x1="633.9" x2="633.9" y1="93.6" y2="94.6" class="tk"/>
<text x="633.9" y="98.5" class="tl" style="font-size:2.7px" text-anchor="middle">.60</text>
<line x1="657.2" x2="657.2" y1="93.6" y2="94.6" class="tk"/>
<text x="657.2" y="98.5" class="tl" style="font-size:2.7px" text-anchor="middle">.80</text>
<line x1="680.5" x2="680.5" y1="93.6" y2="94.6" class="tk"/>
<text x="680.5" y="98.5" class="tl" style="font-size:2.7px" text-anchor="middle">1.00</text>
<circle cx="586.8" cy="65.6" r="0.75"/>
<circle cx="594.8" cy="59.7" r="0.75"/>
<circle cx="596.1" cy="62.5" r="0.75"/>
<circle cx="595.7" cy="64.7" r="0.75"/>
<circle cx="598" cy="65.3" r="0.75"/>
<circle cx="598.9" cy="64.1" r="0.75"/>
<circle cx="601.3" cy="66.9" r="0.75"/>
<circle cx="596.5" cy="69.9" r="0.75"/>
<circle cx="598.9" cy="72.1" r="0.75"/>
<circle cx="603.5" cy="71.6" r="0.75"/>
<circle cx="598.3" cy="77.3" r="0.75"/>
<circle cx="608.7" cy="63.2" r="0.75"/>
<circle cx="609.1" cy="66.2" r="0.75"/>
<circle cx="611.9" cy="65.6" r="0.75"/>
<circle cx="636" cy="41.5" r="0.75"/>
<circle cx="657.9" cy="43.4" r="0.75"/>
<circle cx="613.9" cy="49.5" r="0.75"/>
<circle cx="615.2" cy="52.6" r="0.75"/>
<circle cx="630.1" cy="47.1" r="0.75"/>
<circle cx="624.5" cy="52.1" r="0.75"/>
<circle cx="608.7" cy="62.8" r="0.75"/>
<circle cx="611.5" cy="65.6" r="0.75"/>
<circle cx="615.8" cy="59.5" r="0.75"/>
<circle cx="616.5" cy="68.8" r="0.75"/>
<circle cx="622.3" cy="68.4" r="0.75"/>
<circle cx="627.6" cy="70.8" r="0.75"/>
<circle cx="628.8" cy="65.6" r="0.75"/>
<circle cx="643" cy="69.3" r="0.75"/>
<circle cx="646.2" cy="70.6" r="0.75"/>
<circle cx="653.6" cy="66.9" r="0.75"/>
<circle cx="651.8" cy="63.8" r="0.75"/>
<circle cx="666.3" cy="59.1" r="0.75"/>
<circle cx="633.8" cy="62.8" r="0.75"/>
<circle cx="618.2" cy="64.6" r="0.75"/>
<circle cx="617" cy="64.9" r="0.75"/>
<circle cx="621.2" cy="62.7" r="0.75"/>
<circle cx="616.5" cy="65.1" r="0.75"/>
<circle cx="622" cy="62.5" r="0.75"/>
<circle cx="616.4" cy="64.8" r="0.75"/>
<circle cx="619.9" cy="62.8" r="0.75"/>
<circle cx="620.4" cy="63" r="0.75"/>
<circle cx="653.1" cy="49.3" r="0.75"/>
<circle cx="655.7" cy="50.3" r="0.75"/>
<circle cx="650.1" cy="48.7" r="0.75"/>
<circle cx="648.2" cy="48.9" r="0.75"/>
<circle cx="640.5" cy="49.7" r="0.75"/>
<circle cx="656.6" cy="49" r="0.75"/>
<circle cx="643.2" cy="57.7" r="0.75"/>
<circle cx="653.1" cy="52.7" r="0.75"/>
<circle cx="648.7" cy="58.3" r="0.75"/>
<circle cx="661.1" cy="54.3" r="0.75"/>
<circle cx="658.5" cy="55.4" r="0.75"/>
<circle cx="654" cy="51.2" r="0.75"/>
<circle cx="650.9" cy="52.6" r="0.75"/>
<circle cx="653.1" cy="52.9" r="0.75"/>
<circle cx="654.9" cy="56.8" r="0.75"/>
<circle cx="665" cy="48.4" r="0.75"/>
<circle cx="640.6" cy="49.5" r="0.75"/>
<circle cx="640.9" cy="56.9" r="0.75"/>
<circle cx="657.4" cy="49.3" r="0.75"/>
<circle cx="645.4" cy="58" r="0.75"/>
<circle cx="663.4" cy="55.3" r="0.75"/>
<circle cx="659.4" cy="56.2" r="0.75"/>
<circle cx="652.7" cy="51" r="0.75"/>
<circle cx="655.5" cy="58.2" r="0.75"/>
<circle cx="663.4" cy="46.1" r="0.75"/>
<circle cx="646.9" cy="59.6" r="0.75"/>
<circle cx="655.2" cy="52.7" r="0.75"/>
<circle cx="648.7" cy="57.9" r="0.75"/>
<circle cx="654.5" cy="59.9" r="0.75"/>
<circle cx="642.1" cy="59.9" r="0.75"/>
<circle cx="650.9" cy="54.6" r="0.75"/>
<circle cx="643.1" cy="53.4" r="0.75"/>
<circle cx="666.3" cy="51.5" r="0.75"/>
<circle cx="661.3" cy="53.9" r="0.75"/>
<circle cx="656.3" cy="47.6" r="0.75"/>
<circle cx="653" cy="58.5" r="0.75"/>
<circle cx="658.9" cy="48.3" r="0.75"/>
<circle cx="652.5" cy="53.2" r="0.75"/>
<circle cx="649.4" cy="53.7" r="0.75"/>
<circle cx="657.7" cy="45.3" r="0.75"/>
<circle cx="646.2" cy="54.9" r="0.75"/>
<circle cx="646" cy="46.1" r="0.75"/>
<circle cx="661.3" cy="50" r="0.75"/>
<circle cx="666.8" cy="53.4" r="0.75"/>
<circle cx="642.8" cy="54.6" r="0.75"/>
<circle cx="647.3" cy="57.2" r="0.75"/>
<circle cx="660.3" cy="56.4" r="0.75"/>
<circle cx="662.3" cy="47.1" r="0.75"/>
<circle cx="644.6" cy="52.1" r="0.75"/>
<circle cx="666.8" cy="49.8" r="0.75"/>
<circle cx="647.3" cy="57.4" r="0.75"/>
<circle cx="645.2" cy="54.5" r="0.75"/>
<circle cx="657.2" cy="59" r="0.75"/>
<circle cx="641.2" cy="53.4" r="0.75"/>
<circle cx="650.7" cy="57.4" r="0.75"/>
<circle cx="647.1" cy="55.7" r="0.75"/>
<circle cx="645.2" cy="52.4" r="0.75"/>
<circle cx="667.1" cy="48.6" r="0.75"/>
<circle cx="647.8" cy="58.8" r="0.75"/>
<circle cx="658.9" cy="46" r="0.75"/>
<circle cx="645.2" cy="48.6" r="0.75"/>
<circle cx="648.1" cy="57.7" r="0.75"/>
<circle cx="658.8" cy="54.4" r="0.75"/>
<circle cx="650.7" cy="55.8" r="0.75"/>
<circle cx="653.8" cy="45.9" r="0.75"/>
<circle cx="653.8" cy="50.8" r="0.75"/>
<circle cx="654.9" cy="45.7" r="0.75"/>
<circle cx="640.8" cy="59.7" r="0.75"/>
<circle cx="650.4" cy="50" r="0.75"/>
<circle cx="644.2" cy="53.9" r="0.75"/>
<circle cx="665.6" cy="47.7" r="0.75"/>
<circle cx="654" cy="52.5" r="0.75"/>
<circle cx="661.4" cy="53.5" r="0.75"/>
<circle cx="646.7" cy="47.8" r="0.75"/>
<circle cx="660.3" cy="46.2" r="0.75"/>
<circle cx="664.2" cy="45.5" r="0.75"/>
<circle cx="645.3" cy="52" r="0.75"/>
<circle cx="663.6" cy="54.3" r="0.75"/>
<circle cx="660.9" cy="56.4" r="0.75"/>
<circle cx="660.2" cy="45.8" r="0.75"/>
<circle cx="663.1" cy="47.2" r="0.75"/>
<circle cx="640.8" cy="58.2" r="0.75"/>
<circle cx="650.7" cy="46.3" r="0.75"/>
<circle cx="641.3" cy="57.7" r="0.75"/>
<circle cx="656.8" cy="58.7" r="0.75"/>
<circle cx="648" cy="47.9" r="0.75"/>
<circle cx="643.1" cy="48" r="0.75"/>
<circle cx="657.9" cy="47.5" r="0.75"/>
<circle cx="644.7" cy="53" r="0.75"/>
<circle cx="650.5" cy="47.2" r="0.75"/>
<circle cx="655.9" cy="52.6" r="0.75"/>
<circle cx="650.9" cy="52.1" r="0.75"/>
<circle cx="641.1" cy="54.2" r="0.75"/>
<circle cx="645.4" cy="50" r="0.75"/>
<circle cx="640.3" cy="58.3" r="0.75"/>
<circle cx="656.5" cy="50.9" r="0.75"/>
<circle cx="655.2" cy="59.1" r="0.75"/>
<circle cx="643.7" cy="50.8" r="0.75"/>
<circle cx="659.8" cy="50.6" r="0.75"/>
<circle cx="659.8" cy="58.6" r="0.75"/>
<circle cx="641.1" cy="49.3" r="0.75"/>
<circle cx="648.2" cy="56.3" r="0.75"/>
<circle cx="662" cy="55.5" r="0.75"/>
<circle cx="665.9" cy="47.8" r="0.75"/>
<circle cx="651" cy="57.8" r="0.75"/>
<circle cx="638" cy="57" r="0.75"/>
<circle cx="641.7" cy="62.7" r="0.75"/>
<circle cx="639.7" cy="59.3" r="0.75"/>
<circle cx="635.3" cy="64.6" r="0.75"/>
<circle cx="640.3" cy="61.2" r="0.75"/>
<circle cx="640.1" cy="65" r="0.75"/>
<circle cx="639.3" cy="61.9" r="0.75"/>
<circle cx="641.3" cy="57.3" r="0.75"/>
<circle cx="631.9" cy="61.1" r="0.75"/>
<circle cx="627.2" cy="63" r="0.75"/>
<circle cx="626.1" cy="61.7" r="0.75"/>
<circle cx="629.8" cy="58.9" r="0.75"/>
<circle cx="635.3" cy="57.7" r="0.75"/>
<circle cx="632.6" cy="63.7" r="0.75"/>
<circle cx="641.8" cy="58.4" r="0.75"/>
<circle cx="631.2" cy="62.2" r="0.75"/>
<circle cx="628.2" cy="63.6" r="0.75"/>
<circle cx="628.4" cy="61" r="0.75"/>
<circle cx="630.8" cy="56" r="0.75"/>
<circle cx="625" cy="56" r="0.75"/>
<circle cx="630.6" cy="58.5" r="0.75"/>
<circle cx="641.9" cy="61.7" r="0.75"/>
<circle cx="626.1" cy="62.4" r="0.75"/>
<circle cx="629" cy="60.3" r="0.75"/>
<circle cx="637.3" cy="63.7" r="0.75"/>
<circle cx="683" cy="54.2" r="0.75"/>
<circle cx="673.1" cy="54.1" r="0.75"/>
<circle cx="673" cy="56.3" r="0.75"/>
<circle cx="675.4" cy="56" r="0.75"/>
<circle cx="670.4" cy="56.6" r="0.75"/>
<circle cx="683.5" cy="52.8" r="0.75"/>
<circle cx="677.9" cy="52.6" r="0.75"/>
<circle cx="668.6" cy="54.2" r="0.75"/>
<circle cx="670.9" cy="56.2" r="0.75"/>
<circle cx="677.2" cy="55.9" r="0.75"/>
<circle cx="683.5" cy="51.9" r="0.75"/>
<circle cx="669.6" cy="51.7" r="0.75"/>
<circle cx="675.4" cy="56.9" r="0.75"/>
<circle cx="678.9" cy="55.1" r="0.75"/>
<circle cx="681.7" cy="53.9" r="0.75"/>
<circle cx="669.8" cy="55.7" r="0.75"/>
<circle cx="668.4" cy="53" r="0.75"/>
<circle cx="668.5" cy="52.6" r="0.75"/>
<circle cx="669" cy="55" r="0.75"/>
<circle cx="670" cy="55.4" r="0.75"/>
<circle cx="681.2" cy="53.7" r="0.75"/>
<circle cx="669.9" cy="55.9" r="0.75"/>
<circle cx="679.7" cy="57.2" r="0.75"/>
<circle cx="676.9" cy="55.3" r="0.75"/>
<circle cx="681.8" cy="55.9" r="0.75"/>
<circle cx="683.6" cy="53.4" r="0.75"/>
<circle cx="680.4" cy="55.6" r="0.75"/>
<circle cx="675.5" cy="51.6" r="0.75"/>
<circle cx="675.6" cy="53.2" r="0.75"/>
<circle cx="677.6" cy="54.8" r="0.75"/>
<circle cx="676.2" cy="51.9" r="0.75"/>
<circle cx="670.1" cy="55.4" r="0.75"/>
<circle cx="633.6" cy="56.9" r="0.75"/>
<circle cx="635.9" cy="52" r="0.75"/>
<circle cx="629.1" cy="53.5" r="0.75"/>
<circle cx="636.1" cy="52.8" r="0.75"/>
<circle cx="638.4" cy="53.4" r="0.75"/>
<circle cx="628" cy="53.4" r="0.75"/>
<circle cx="627.1" cy="57" r="0.75"/>
<circle cx="620.9" cy="52.8" r="0.75"/>
<circle cx="621.6" cy="54.7" r="0.75"/>
<circle cx="623" cy="51" r="0.75"/>
<circle cx="628.5" cy="54.2" r="0.75"/>
<circle cx="635.3" cy="53.1" r="0.75"/>
<circle cx="625.9" cy="52.6" r="0.75"/>
<circle cx="637.8" cy="51.5" r="0.75"/>
<path d="M533.3 14V93.6H686" class="ax"/>
<text x="667.3" y="42.35" class="an" style="font-size:2.692px" textLength="21.7" lengthAdjust="spacingAndGlyphs">Upper LOA: 0.130</text>
<text x="673.8" y="57.95" class="anb" style="font-size:2.532px" textLength="15.2" lengthAdjust="spacingAndGlyphs">Mean: -0.030</text>
<text x="666" y="69.45" class="an" style="font-size:2.740px" textLength="23" lengthAdjust="spacingAndGlyphs">Lower LOA: -0.190</text>
<text x="590" y="102.65" class="xl" style="font-size:3.099px" textLength="43.7" lengthAdjust="spacing">MEAN: QLU-C10D, SF-6Dv2</text>
<text x="0" y="0" class="xl" style="font-size:2.797px" textLength="46.3" lengthAdjust="spacing" transform="translate(524.45 76.8) rotate(-90)">Difference: QLU-C10D - SF-6Dv2</text>
<text x="2.1" y="112.55" class="let">B</text>
<text x="61.7" y="119.7" class="tit" style="font-size:4.678px" textLength="56.8" lengthAdjust="spacing">FRENCH Tariff (Breast)</text>
<line x1="16" x2="179.5" y1="151.4" y2="151.4" class="loa"/>
<line x1="16" x2="179.5" y1="180.3" y2="180.3" class="loa"/>
<line x1="18" x2="179.5" y1="157.5" y2="157.5" class="zer"/>
<line x1="16" x2="179.5" y1="165.9" y2="165.9" class="mn"/>
<line x1="15" x2="16" y1="120.4" y2="120.4" class="tk"/>
<text x="14.9" y="121.35" class="tl" style="font-size:2.7px" text-anchor="end">1.00</text>
<line x1="15" x2="16" y1="139.07" y2="139.07" class="tk"/>
<text x="14.9" y="140.02" class="tl" style="font-size:2.7px" text-anchor="end">.50</text>
<line x1="15" x2="16" y1="157.75" y2="157.75" class="tk"/>
<text x="14.9" y="158.7" class="tl" style="font-size:2.7px" text-anchor="end">.00</text>
<line x1="15" x2="16" y1="176.43" y2="176.43" class="tk"/>
<text x="14.9" y="177.38" class="tl" style="font-size:2.7px" text-anchor="end">-.50</text>
<line x1="15" x2="16" y1="195.1" y2="195.1" class="tk"/>
<text x="14.9" y="196.05" class="tl" style="font-size:2.7px" text-anchor="end">-1.00</text>
<line x1="24.3" x2="24.3" y1="198.8" y2="199.8" class="tk"/>
<text x="24.3" y="203.7" class="tl" style="font-size:2.7px" text-anchor="middle">-.20</text>
<line x1="48.72" x2="48.72" y1="198.8" y2="199.8" class="tk"/>
<text x="48.72" y="203.7" class="tl" style="font-size:2.7px" text-anchor="middle">.00</text>
<line x1="73.13" x2="73.13" y1="198.8" y2="199.8" class="tk"/>
<text x="73.13" y="203.7" class="tl" style="font-size:2.7px" text-anchor="middle">.20</text>
<line x1="97.55" x2="97.55" y1="198.8" y2="199.8" class="tk"/>
<text x="97.55" y="203.7" class="tl" style="font-size:2.7px" text-anchor="middle">.40</text>
<line x1="121.97" x2="121.97" y1="198.8" y2="199.8" class="tk"/>
<text x="121.97" y="203.7" class="tl" style="font-size:2.7px" text-anchor="middle">.60</text>
<line x1="146.38" x2="146.38" y1="198.8" y2="199.8" class="tk"/>
<text x="146.38" y="203.7" class="tl" style="font-size:2.7px" text-anchor="middle">.80</text>
<line x1="170.8" x2="170.8" y1="198.8" y2="199.8" class="tk"/>
<text x="170.8" y="203.7" class="tl" style="font-size:2.7px" text-anchor="middle">1.00</text>
<circle cx="58.7" cy="148.8" r="0.75"/>
<circle cx="86.2" cy="156.9" r="0.75"/>
<circle cx="50.3" cy="169.9" r="0.75"/>
<circle cx="51.6" cy="182.5" r="0.75"/>
<circle cx="95.4" cy="161.8" r="0.75"/>
<circle cx="94.9" cy="165.3" r="0.75"/>
<circle cx="136.7" cy="151.4" r="0.75"/>
<circle cx="122.8" cy="154.3" r="0.75"/>
<circle cx="130.8" cy="154.3" r="0.75"/>
<circle cx="147.5" cy="155.1" r="0.75"/>
<circle cx="96.2" cy="161.8" r="0.75"/>
<circle cx="122.8" cy="161.8" r="0.75"/>
<circle cx="94.9" cy="165.5" r="0.75"/>
<circle cx="106.6" cy="167.3" r="0.75"/>
<circle cx="120" cy="165.5" r="0.75"/>
<circle cx="136.3" cy="164.9" r="0.75"/>
<circle cx="115" cy="172" r="0.75"/>
<circle cx="127" cy="169.9" r="0.75"/>
<circle cx="128.3" cy="171.4" r="0.75"/>
<circle cx="133.5" cy="170.5" r="0.75"/>
<circle cx="132.6" cy="172.9" r="0.75"/>
<circle cx="137.1" cy="174.2" r="0.75"/>
<circle cx="125.2" cy="174.2" r="0.75"/>
<circle cx="128.9" cy="174.8" r="0.75"/>
<circle cx="138.2" cy="176" r="0.75"/>
<circle cx="123.3" cy="178.8" r="0.75"/>
<circle cx="129.3" cy="177.9" r="0.75"/>
<circle cx="133.9" cy="179.8" r="0.75"/>
<circle cx="118.1" cy="179.8" r="0.75"/>
<circle cx="114.8" cy="181.6" r="0.75"/>
<circle cx="112.6" cy="184.4" r="0.75"/>
<circle cx="98.6" cy="184" r="0.75"/>
<circle cx="108.5" cy="189.6" r="0.75"/>
<circle cx="138.5" cy="169.9" r="0.75"/>
<circle cx="141.9" cy="171" r="0.75"/>
<circle cx="143.7" cy="172.3" r="0.75"/>
<circle cx="139.4" cy="169.7" r="0.75"/>
<circle cx="163.3" cy="157.6" r="0.75"/>
<circle cx="145.9" cy="163.3" r="0.75"/>
<circle cx="140.7" cy="170.5" r="0.75"/>
<circle cx="143.7" cy="168.2" r="0.75"/>
<circle cx="140.2" cy="166.3" r="0.75"/>
<circle cx="140.5" cy="165.6" r="0.75"/>
<circle cx="147.1" cy="164.8" r="0.75"/>
<circle cx="144.5" cy="167.6" r="0.75"/>
<circle cx="149.9" cy="162.9" r="0.75"/>
<circle cx="155.1" cy="166.2" r="0.75"/>
<circle cx="158.7" cy="158.6" r="0.75"/>
<circle cx="158.4" cy="165.7" r="0.75"/>
<circle cx="152.2" cy="166.2" r="0.75"/>
<circle cx="152.3" cy="162.1" r="0.75"/>
<circle cx="150.5" cy="161.9" r="0.75"/>
<circle cx="151.5" cy="166.1" r="0.75"/>
<circle cx="168" cy="157.9" r="0.75"/>
<circle cx="163.7" cy="160" r="0.75"/>
<circle cx="150.5" cy="163.7" r="0.75"/>
<circle cx="148.4" cy="162.9" r="0.75"/>
<circle cx="165.1" cy="161.5" r="0.75"/>
<circle cx="158.5" cy="161.4" r="0.75"/>
<circle cx="157.7" cy="158.6" r="0.75"/>
<circle cx="141.9" cy="164.9" r="0.75"/>
<circle cx="142" cy="162.7" r="0.75"/>
<circle cx="144.1" cy="164.5" r="0.75"/>
<circle cx="155.8" cy="167.2" r="0.75"/>
<circle cx="153.3" cy="163.5" r="0.75"/>
<circle cx="148.1" cy="168.1" r="0.75"/>
<circle cx="155.9" cy="159.7" r="0.75"/>
<circle cx="147.4" cy="166.6" r="0.75"/>
<circle cx="146.8" cy="166.2" r="0.75"/>
<circle cx="154.2" cy="162.1" r="0.75"/>
<circle cx="157.4" cy="158.8" r="0.75"/>
<circle cx="151.6" cy="162" r="0.75"/>
<circle cx="166.2" cy="157.1" r="0.75"/>
<circle cx="151" cy="161.3" r="0.75"/>
<circle cx="163.9" cy="160.1" r="0.75"/>
<circle cx="164.7" cy="157.9" r="0.75"/>
<circle cx="149.3" cy="168" r="0.75"/>
<circle cx="148.8" cy="163.3" r="0.75"/>
<circle cx="165.6" cy="157.7" r="0.75"/>
<circle cx="162.8" cy="161.7" r="0.75"/>
<circle cx="156.8" cy="162.6" r="0.75"/>
<circle cx="149.9" cy="163.9" r="0.75"/>
<circle cx="150.7" cy="163.2" r="0.75"/>
<circle cx="157.1" cy="164" r="0.75"/>
<circle cx="160.9" cy="163.5" r="0.75"/>
<circle cx="157.8" cy="164.4" r="0.75"/>
<circle cx="166.9" cy="157.5" r="0.75"/>
<circle cx="143.7" cy="167.8" r="0.75"/>
<circle cx="162.9" cy="161.2" r="0.75"/>
<circle cx="141.6" cy="167.1" r="0.75"/>
<circle cx="141" cy="170.4" r="0.75"/>
<circle cx="143" cy="163.3" r="0.75"/>
<circle cx="160.8" cy="158.3" r="0.75"/>
<circle cx="152.3" cy="163.6" r="0.75"/>
<circle cx="146.9" cy="163.5" r="0.75"/>
<circle cx="145.8" cy="167.4" r="0.75"/>
<circle cx="156.1" cy="166.4" r="0.75"/>
<circle cx="141.4" cy="167.5" r="0.75"/>
<circle cx="166.2" cy="157.3" r="0.75"/>
<circle cx="145.7" cy="163.3" r="0.75"/>
<circle cx="156.8" cy="158.3" r="0.75"/>
<circle cx="151.9" cy="160.3" r="0.75"/>
<circle cx="146.2" cy="162.8" r="0.75"/>
<circle cx="158.9" cy="161.9" r="0.75"/>
<circle cx="141.3" cy="166.5" r="0.75"/>
<circle cx="151.8" cy="160.7" r="0.75"/>
<circle cx="143" cy="165.5" r="0.75"/>
<circle cx="145.4" cy="164.5" r="0.75"/>
<circle cx="148.5" cy="163.9" r="0.75"/>
<circle cx="147.6" cy="164.6" r="0.75"/>
<circle cx="150.4" cy="160.9" r="0.75"/>
<path d="M16 116.3V198.8H178.8" class="ax"/>
<text x="157.7" y="151.45" class="an" style="font-size:2.705px" textLength="21.8" lengthAdjust="spacingAndGlyphs">Upper LOA: 0.132</text>
<text x="163.4" y="168.85" class="anb" style="font-size:2.566px" textLength="15.4" lengthAdjust="spacingAndGlyphs">Mean: -0.227</text>
<text x="156.8" y="182.85" class="an" style="font-size:2.704px" textLength="22.7" lengthAdjust="spacingAndGlyphs">Lower LOA: -0.614</text>
<text x="74" y="209.35" class="xl" style="font-size:3.028px" textLength="44.5" lengthAdjust="spacing">MEAN: QLU-C10D, EQ-5D-5L</text>
<text x="0" y="0" class="xl" style="font-size:2.963px" textLength="50.8" lengthAdjust="spacing" transform="translate(5.05 183.2) rotate(-90)">Difference: QLU-C10D - EQ-5D-5L</text>
<text x="181.3" y="112.85" class="let">E</text>
<text x="232.8" y="119.5" class="tit" style="font-size:4.570px" textLength="56.9" lengthAdjust="spacing">GERMAN Tariff (Breast)</text>
<line x1="188.5" x2="348.8" y1="149.1" y2="149.1" class="loa"/>
<line x1="188.5" x2="348.8" y1="171.6" y2="171.6" class="loa"/>
<line x1="190" x2="348.8" y1="157.5" y2="157.5" class="zer"/>
<line x1="188.5" x2="348.8" y1="160.3" y2="160.3" class="mn"/>
<line x1="187.5" x2="188.5" y1="120.2" y2="120.2" class="tk"/>
<text x="187.4" y="121.15" class="tl" style="font-size:2.7px" text-anchor="end">1.00</text>
<line x1="187.5" x2="188.5" y1="139.05" y2="139.05" class="tk"/>
<text x="187.4" y="140" class="tl" style="font-size:2.7px" text-anchor="end">.50</text>
<line x1="187.5" x2="188.5" y1="157.9" y2="157.9" class="tk"/>
<text x="187.4" y="158.85" class="tl" style="font-size:2.7px" text-anchor="end">.00</text>
<line x1="187.5" x2="188.5" y1="176.75" y2="176.75" class="tk"/>
<text x="187.4" y="177.7" class="tl" style="font-size:2.7px" text-anchor="end">-.50</text>
<line x1="187.5" x2="188.5" y1="195.6" y2="195.6" class="tk"/>
<text x="187.4" y="196.55" class="tl" style="font-size:2.7px" text-anchor="end">-1.00</text>
<line x1="196.6" x2="196.6" y1="199.4" y2="200.4" class="tk"/>
<text x="196.6" y="204.3" class="tl" style="font-size:2.7px" text-anchor="middle">-.20</text>
<line x1="220.57" x2="220.57" y1="199.4" y2="200.4" class="tk"/>
<text x="220.57" y="204.3" class="tl" style="font-size:2.7px" text-anchor="middle">.00</text>
<line x1="244.53" x2="244.53" y1="199.4" y2="200.4" class="tk"/>
<text x="244.53" y="204.3" class="tl" style="font-size:2.7px" text-anchor="middle">.20</text>
<line x1="268.5" x2="268.5" y1="199.4" y2="200.4" class="tk"/>
<text x="268.5" y="204.3" class="tl" style="font-size:2.7px" text-anchor="middle">.40</text>
<line x1="292.47" x2="292.47" y1="199.4" y2="200.4" class="tk"/>
<text x="292.47" y="204.3" class="tl" style="font-size:2.7px" text-anchor="middle">.60</text>
<line x1="316.43" x2="316.43" y1="199.4" y2="200.4" class="tk"/>
<text x="316.43" y="204.3" class="tl" style="font-size:2.7px" text-anchor="middle">.80</text>
<line x1="340.4" x2="340.4" y1="199.4" y2="200.4" class="tk"/>
<text x="340.4" y="204.3" class="tl" style="font-size:2.7px" text-anchor="middle">1.00</text>
<circle cx="228.8" cy="139.3" r="0.75"/>
<circle cx="257.2" cy="148.9" r="0.75"/>
<circle cx="232.2" cy="156.4" r="0.75"/>
<circle cx="243.3" cy="171.8" r="0.75"/>
<circle cx="270.9" cy="145.8" r="0.75"/>
<circle cx="285" cy="150" r="0.75"/>
<circle cx="273.9" cy="154.7" r="0.75"/>
<circle cx="298" cy="149.5" r="0.75"/>
<circle cx="299.9" cy="150" r="0.75"/>
<circle cx="301.8" cy="151.3" r="0.75"/>
<circle cx="314.2" cy="149.5" r="0.75"/>
<circle cx="317.9" cy="152.3" r="0.75"/>
<circle cx="296.9" cy="156" r="0.75"/>
<circle cx="297.5" cy="157.5" r="0.75"/>
<circle cx="308.6" cy="156.9" r="0.75"/>
<circle cx="308.6" cy="158.2" r="0.75"/>
<circle cx="298.4" cy="163" r="0.75"/>
<circle cx="301.2" cy="162.5" r="0.75"/>
<circle cx="305.8" cy="161.9" r="0.75"/>
<circle cx="309.5" cy="162.5" r="0.75"/>
<circle cx="310.5" cy="164" r="0.75"/>
<circle cx="307.7" cy="165.3" r="0.75"/>
<circle cx="299.3" cy="166.2" r="0.75"/>
<circle cx="286.9" cy="167.5" r="0.75"/>
<circle cx="281.7" cy="169" r="0.75"/>
<circle cx="296.6" cy="169.9" r="0.75"/>
<circle cx="298.4" cy="169.9" r="0.75"/>
<circle cx="301.2" cy="170.8" r="0.75"/>
<circle cx="310.1" cy="171.2" r="0.75"/>
<circle cx="313.3" cy="169" r="0.75"/>
<circle cx="314.2" cy="165.3" r="0.75"/>
<circle cx="315.1" cy="173.6" r="0.75"/>
<circle cx="291" cy="174.2" r="0.75"/>
<circle cx="294.7" cy="176.8" r="0.75"/>
<circle cx="299.3" cy="174.5" r="0.75"/>
<circle cx="335.6" cy="160.7" r="0.75"/>
<circle cx="317.7" cy="161.1" r="0.75"/>
<circle cx="329.9" cy="159.9" r="0.75"/>
<circle cx="321.5" cy="163.3" r="0.75"/>
<circle cx="316" cy="160.4" r="0.75"/>
<circle cx="320.1" cy="156.9" r="0.75"/>
<circle cx="323" cy="160.3" r="0.75"/>
<circle cx="321.1" cy="161.8" r="0.75"/>
<circle cx="330.3" cy="154.7" r="0.75"/>
<circle cx="315.7" cy="162.4" r="0.75"/>
<circle cx="327.9" cy="158.2" r="0.75"/>
<circle cx="334.2" cy="160.7" r="0.75"/>
<circle cx="335.6" cy="159.5" r="0.75"/>
<circle cx="328.7" cy="156.6" r="0.75"/>
<circle cx="338.9" cy="157.3" r="0.75"/>
<circle cx="324.3" cy="155.8" r="0.75"/>
<circle cx="330.5" cy="154.6" r="0.75"/>
<circle cx="315.4" cy="159.8" r="0.75"/>
<circle cx="340.8" cy="156.8" r="0.75"/>
<circle cx="320.2" cy="155.4" r="0.75"/>
<circle cx="327.8" cy="158" r="0.75"/>
<circle cx="340.6" cy="157" r="0.75"/>
<circle cx="328.9" cy="155" r="0.75"/>
<circle cx="331.1" cy="162.3" r="0.75"/>
<circle cx="333.7" cy="156.2" r="0.75"/>
<circle cx="337.3" cy="160.9" r="0.75"/>
<circle cx="339.9" cy="159.1" r="0.75"/>
<circle cx="324.3" cy="162.6" r="0.75"/>
<circle cx="323.9" cy="154.8" r="0.75"/>
<circle cx="319.7" cy="158.1" r="0.75"/>
<circle cx="332.4" cy="154.9" r="0.75"/>
<circle cx="315.6" cy="158.2" r="0.75"/>
<circle cx="321.3" cy="161.8" r="0.75"/>
<circle cx="325" cy="161.5" r="0.75"/>
<circle cx="329.5" cy="159.1" r="0.75"/>
<circle cx="319.6" cy="158.6" r="0.75"/>
<circle cx="329.5" cy="154.9" r="0.75"/>
<circle cx="325.7" cy="154.5" r="0.75"/>
<circle cx="324.9" cy="163.4" r="0.75"/>
<circle cx="336.5" cy="159.8" r="0.75"/>
<circle cx="317.2" cy="160.1" r="0.75"/>
<circle cx="317.7" cy="159.6" r="0.75"/>
<circle cx="322.5" cy="155.4" r="0.75"/>
<circle cx="314.8" cy="162.2" r="0.75"/>
<circle cx="336.6" cy="158.6" r="0.75"/>
<circle cx="320" cy="157.3" r="0.75"/>
<circle cx="322.1" cy="158.1" r="0.75"/>
<circle cx="339.9" cy="156.6" r="0.75"/>
<circle cx="328.2" cy="155.4" r="0.75"/>
<circle cx="315.8" cy="158.4" r="0.75"/>
<circle cx="325.7" cy="161.8" r="0.75"/>
<circle cx="337.9" cy="158.3" r="0.75"/>
<circle cx="315.5" cy="161.5" r="0.75"/>
<circle cx="325.4" cy="155.4" r="0.75"/>
<circle cx="325.9" cy="155.3" r="0.75"/>
<circle cx="331.1" cy="162.2" r="0.75"/>
<circle cx="318.5" cy="156.6" r="0.75"/>
<circle cx="330.4" cy="160.1" r="0.75"/>
<circle cx="325.5" cy="162.8" r="0.75"/>
<circle cx="314.4" cy="159.5" r="0.75"/>
<circle cx="321.8" cy="159.8" r="0.75"/>
<circle cx="335.3" cy="156.5" r="0.75"/>
<path d="M188.5 116.3V199.4H348.8" class="ax"/>
<text x="327" y="148.15" class="an" style="font-size:2.630px" textLength="21.2" lengthAdjust="spacingAndGlyphs">Upper LOA: 0.230</text>
<text x="333" y="164.95" class="anb" style="font-size:2.632px" textLength="15.8" lengthAdjust="spacingAndGlyphs">Mean: -0.074</text>
<text x="326.5" y="175.25" class="an" style="font-size:2.657px" textLength="22.3" lengthAdjust="spacingAndGlyphs">Lower LOA: -0.378</text>
<text x="246" y="210.65" class="xl" style="font-size:2.953px" textLength="43.4" lengthAdjust="spacing">MEAN: QLU-C10D, EQ-5D-5L</text>
<text x="349.1" y="112.75" class="let">H</text>
<text x="406.2" y="118.6" class="tit" style="font-size:4.623px" textLength="45" lengthAdjust="spacing">UK Tariffs (Breast)</text>
<line x1="357.5" x2="515.3" y1="150.9" y2="150.9" class="loa"/>
<line x1="357.5" x2="515.3" y1="175.5" y2="175.5" class="loa"/>
<line x1="359" x2="515.3" y1="161.5" y2="161.5" class="zer"/>
<line x1="357.5" x2="515.3" y1="163.3" y2="163.3" class="mn"/>
<line x1="356.5" x2="357.5" y1="123.8" y2="123.8" class="tk"/>
<text x="356.4" y="124.75" class="tl" style="font-size:2.7px" text-anchor="end">1.00</text>
<line x1="356.5" x2="357.5" y1="142.57" y2="142.57" class="tk"/>
<text x="356.4" y="143.52" class="tl" style="font-size:2.7px" text-anchor="end">.50</text>
<line x1="356.5" x2="357.5" y1="161.35" y2="161.35" class="tk"/>
<text x="356.4" y="162.3" class="tl" style="font-size:2.7px" text-anchor="end">.00</text>
<line x1="356.5" x2="357.5" y1="180.12" y2="180.12" class="tk"/>
<text x="356.4" y="181.07" class="tl" style="font-size:2.7px" text-anchor="end">-.50</text>
<line x1="356.5" x2="357.5" y1="198.9" y2="198.9" class="tk"/>
<text x="356.4" y="199.85" class="tl" style="font-size:2.7px" text-anchor="end">-1.00</text>
<line x1="365.5" x2="365.5" y1="202.4" y2="203.4" class="tk"/>
<text x="365.5" y="207.3" class="tl" style="font-size:2.7px" text-anchor="middle">-.20</text>
<line x1="389.17" x2="389.17" y1="202.4" y2="203.4" class="tk"/>
<text x="389.17" y="207.3" class="tl" style="font-size:2.7px" text-anchor="middle">.00</text>
<line x1="412.83" x2="412.83" y1="202.4" y2="203.4" class="tk"/>
<text x="412.83" y="207.3" class="tl" style="font-size:2.7px" text-anchor="middle">.20</text>
<line x1="436.5" x2="436.5" y1="202.4" y2="203.4" class="tk"/>
<text x="436.5" y="207.3" class="tl" style="font-size:2.7px" text-anchor="middle">.40</text>
<line x1="460.17" x2="460.17" y1="202.4" y2="203.4" class="tk"/>
<text x="460.17" y="207.3" class="tl" style="font-size:2.7px" text-anchor="middle">.60</text>
<line x1="483.83" x2="483.83" y1="202.4" y2="203.4" class="tk"/>
<text x="483.83" y="207.3" class="tl" style="font-size:2.7px" text-anchor="middle">.80</text>
<line x1="507.5" x2="507.5" y1="202.4" y2="203.4" class="tk"/>
<text x="507.5" y="207.3" class="tl" style="font-size:2.7px" text-anchor="middle">1.00</text>
<circle cx="406.7" cy="144.7" r="0.75"/>
<circle cx="426" cy="150.8" r="0.75"/>
<circle cx="403" cy="158.8" r="0.75"/>
<circle cx="428.1" cy="157.3" r="0.75"/>
<circle cx="429.8" cy="158.2" r="0.75"/>
<circle cx="406.7" cy="176.8" r="0.75"/>
<circle cx="458.2" cy="150.2" r="0.75"/>
<circle cx="460.1" cy="153" r="0.75"/>
<circle cx="465.1" cy="153.9" r="0.75"/>
<circle cx="475.8" cy="148.5" r="0.75"/>
<circle cx="481.8" cy="152.6" r="0.75"/>
<circle cx="446.5" cy="161.9" r="0.75"/>
<circle cx="451.7" cy="159.5" r="0.75"/>
<circle cx="453.6" cy="159.7" r="0.75"/>
<circle cx="461" cy="163.8" r="0.75"/>
<circle cx="466.6" cy="162.5" r="0.75"/>
<circle cx="468" cy="163.4" r="0.75"/>
<circle cx="442.1" cy="171.8" r="0.75"/>
<circle cx="448" cy="170.6" r="0.75"/>
<circle cx="456.9" cy="169.9" r="0.75"/>
<circle cx="459.1" cy="168.4" r="0.75"/>
<circle cx="461.9" cy="168" r="0.75"/>
<circle cx="464.3" cy="167.5" r="0.75"/>
<circle cx="468.4" cy="169" r="0.75"/>
<circle cx="469.9" cy="168.4" r="0.75"/>
<circle cx="456.3" cy="172.7" r="0.75"/>
<circle cx="458.2" cy="174.9" r="0.75"/>
<circle cx="459.5" cy="175.8" r="0.75"/>
<circle cx="466.6" cy="173.1" r="0.75"/>
<circle cx="472.1" cy="174" r="0.75"/>
<circle cx="448" cy="177.3" r="0.75"/>
<circle cx="458.2" cy="179.5" r="0.75"/>
<circle cx="475.8" cy="176.2" r="0.75"/>
<circle cx="480.5" cy="178.1" r="0.75"/>
<circle cx="453.6" cy="183.6" r="0.75"/>
<circle cx="478.1" cy="168.8" r="0.75"/>
<circle cx="485.5" cy="170.3" r="0.75"/>
<circle cx="494.8" cy="169" r="0.75"/>
<circle cx="488.8" cy="166.9" r="0.75"/>
<circle cx="485.1" cy="168.4" r="0.75"/>
<circle cx="493.4" cy="159.3" r="0.75"/>
<circle cx="495.6" cy="160" r="0.75"/>
<circle cx="494.4" cy="159.1" r="0.75"/>
<circle cx="476.5" cy="166.1" r="0.75"/>
<circle cx="478" cy="165.8" r="0.75"/>
<circle cx="482.6" cy="160.7" r="0.75"/>
<circle cx="494.8" cy="163.6" r="0.75"/>
<circle cx="484.3" cy="160.9" r="0.75"/>
<circle cx="492.9" cy="159.2" r="0.75"/>
<circle cx="498.2" cy="158.9" r="0.75"/>
<circle cx="474" cy="160.8" r="0.75"/>
<circle cx="488.2" cy="167" r="0.75"/>
<circle cx="492.1" cy="162.7" r="0.75"/>
<circle cx="494.2" cy="163.2" r="0.75"/>
<circle cx="496.7" cy="163.3" r="0.75"/>
<circle cx="492.3" cy="159.1" r="0.75"/>
<circle cx="477.3" cy="161.7" r="0.75"/>
<circle cx="483.3" cy="163.5" r="0.75"/>
<circle cx="491.1" cy="161.9" r="0.75"/>
<circle cx="479.2" cy="166.3" r="0.75"/>
<circle cx="476" cy="159" r="0.75"/>
<circle cx="482.8" cy="158.6" r="0.75"/>
<circle cx="479.8" cy="157" r="0.75"/>
<circle cx="491.3" cy="158.2" r="0.75"/>
<circle cx="495.5" cy="163.8" r="0.75"/>
<circle cx="494.9" cy="162.2" r="0.75"/>
<circle cx="494.4" cy="159.8" r="0.75"/>
<circle cx="489.2" cy="165" r="0.75"/>
<circle cx="480.5" cy="165.5" r="0.75"/>
<circle cx="494.6" cy="163.1" r="0.75"/>
<circle cx="499.9" cy="159.7" r="0.75"/>
<circle cx="486" cy="161.6" r="0.75"/>
<circle cx="498.7" cy="165.3" r="0.75"/>
<circle cx="479.5" cy="168.4" r="0.75"/>
<circle cx="486.5" cy="157.1" r="0.75"/>
<circle cx="473.6" cy="163.7" r="0.75"/>
<circle cx="498.1" cy="164" r="0.75"/>
<circle cx="500.4" cy="161.7" r="0.75"/>
<circle cx="499" cy="163.9" r="0.75"/>
<circle cx="495.2" cy="163.1" r="0.75"/>
<circle cx="496.3" cy="163.3" r="0.75"/>
<circle cx="476.2" cy="164.8" r="0.75"/>
<circle cx="497.6" cy="161.6" r="0.75"/>
<circle cx="478.8" cy="162.6" r="0.75"/>
<circle cx="485.5" cy="158.2" r="0.75"/>
<circle cx="504.1" cy="158.3" r="0.75"/>
<circle cx="497.9" cy="158.2" r="0.75"/>
<circle cx="476.1" cy="167.2" r="0.75"/>
<circle cx="504.8" cy="161.8" r="0.75"/>
<circle cx="495.3" cy="162" r="0.75"/>
<circle cx="478.7" cy="160.6" r="0.75"/>
<circle cx="488.4" cy="167.3" r="0.75"/>
<circle cx="477" cy="163" r="0.75"/>
<circle cx="489.5" cy="163.2" r="0.75"/>
<circle cx="500.7" cy="163.8" r="0.75"/>
<circle cx="484.3" cy="168.4" r="0.75"/>
<circle cx="494" cy="159.5" r="0.75"/>
<circle cx="492.2" cy="167.3" r="0.75"/>
<circle cx="474.6" cy="164.4" r="0.75"/>
<circle cx="490.1" cy="159.7" r="0.75"/>
<circle cx="478.6" cy="159" r="0.75"/>
<circle cx="488.3" cy="161.5" r="0.75"/>
<circle cx="494" cy="159.5" r="0.75"/>
<circle cx="494.7" cy="162.2" r="0.75"/>
<circle cx="481.3" cy="168.7" r="0.75"/>
<circle cx="492.1" cy="160.4" r="0.75"/>
<circle cx="481.9" cy="165.3" r="0.75"/>
<circle cx="503.7" cy="162.7" r="0.75"/>
<circle cx="506.6" cy="161.4" r="0.75"/>
<circle cx="503.5" cy="162.9" r="0.75"/>
<circle cx="504.3" cy="162.6" r="0.75"/>
<circle cx="507.6" cy="160.4" r="0.75"/>
<circle cx="507.3" cy="160.2" r="0.75"/>
<circle cx="506.3" cy="160.9" r="0.75"/>
<circle cx="501.6" cy="164.2" r="0.75"/>
<line x1="500.5" y1="164.6" x2="507.6" y2="160.6" class="stk" style="stroke-width:1.1"/>
<path d="M357.5 119.5V202.4H514.9" class="ax"/>
<text x="494.2" y="150.65" class="an" style="font-size:2.580px" textLength="20.8" lengthAdjust="spacingAndGlyphs">Upper LOA: 0.252</text>
<text x="499.8" y="167.25" class="anb" style="font-size:2.532px" textLength="15.2" lengthAdjust="spacingAndGlyphs">Mean: -0.071</text>
<text x="493" y="178.85" class="an" style="font-size:2.621px" textLength="22" lengthAdjust="spacingAndGlyphs">Lower LOA: -0.395</text>
<text x="414.6" y="212.95" class="xl" style="font-size:3.001px" textLength="44.1" lengthAdjust="spacing">MEAN: QLU-C10D, EQ-5D-5L</text>
<text x="519.8" y="112.35" class="let">K</text>
<text x="582" y="120.9" class="tit" style="font-size:4.551px" textLength="44.3" lengthAdjust="spacing">UK Tariffs (Breast)</text>
<line x1="533.5" x2="686" y1="152.4" y2="152.4" class="loa"/>
<line x1="533.5" x2="686" y1="171.9" y2="171.9" class="loa"/>
<line x1="533.5" x2="686" y1="162.4" y2="162.4" class="mn"/>
<line x1="532.5" x2="533.5" y1="126.1" y2="126.1" class="tk"/>
<text x="532.4" y="127.05" class="tl" style="font-size:2.7px" text-anchor="end">1.00</text>
<line x1="532.5" x2="533.5" y1="144.15" y2="144.15" class="tk"/>
<text x="532.4" y="145.1" class="tl" style="font-size:2.7px" text-anchor="end">.50</text>
<line x1="532.5" x2="533.5" y1="162.2" y2="162.2" class="tk"/>
<text x="532.4" y="163.15" class="tl" style="font-size:2.7px" text-anchor="end">.00</text>
<line x1="532.5" x2="533.5" y1="180.25" y2="180.25" class="tk"/>
<text x="532.4" y="181.2" class="tl" style="font-size:2.7px" text-anchor="end">-.50</text>
<line x1="532.5" x2="533.5" y1="198.3" y2="198.3" class="tk"/>
<text x="532.4" y="199.25" class="tl" style="font-size:2.7px" text-anchor="end">-1.00</text>
<line x1="541.4" x2="541.4" y1="201.5" y2="202.5" class="tk"/>
<text x="541.4" y="206.4" class="tl" style="font-size:2.7px" text-anchor="middle">-.20</text>
<line x1="564.8" x2="564.8" y1="201.5" y2="202.5" class="tk"/>
<text x="564.8" y="206.4" class="tl" style="font-size:2.7px" text-anchor="middle">.00</text>
<line x1="588.2" x2="588.2" y1="201.5" y2="202.5" class="tk"/>
<text x="588.2" y="206.4" class="tl" style="font-size:2.7px" text-anchor="middle">.20</text>
<line x1="611.6" x2="611.6" y1="201.5" y2="202.5" class="tk"/>
<text x="611.6" y="206.4" class="tl" style="font-size:2.7px" text-anchor="middle">.40</text>
<line x1="635" x2="635" y1="201.5" y2="202.5" class="tk"/>
<text x="635" y="206.4" class="tl" style="font-size:2.7px" text-anchor="middle">.60</text>
<line x1="658.4" x2="658.4" y1="201.5" y2="202.5" class="tk"/>
<text x="658.4" y="206.4" class="tl" style="font-size:2.7px" text-anchor="middle">.80</text>
<line x1="681.8" x2="681.8" y1="201.5" y2="202.5" class="tk"/>
<text x="681.8" y="206.4" class="tl" style="font-size:2.7px" text-anchor="middle">1.00</text>
<circle cx="576.2" cy="173.1" r="0.75"/>
<circle cx="606.9" cy="160.1" r="0.75"/>
<circle cx="608.2" cy="161.4" r="0.75"/>
<circle cx="606.9" cy="169.9" r="0.75"/>
<circle cx="611.3" cy="169.9" r="0.75"/>
<circle cx="607.2" cy="177.3" r="0.75"/>
<circle cx="647.7" cy="148.4" r="0.75"/>
<circle cx="656.6" cy="150.2" r="0.75"/>
<circle cx="654.2" cy="152.6" r="0.75"/>
<circle cx="660.3" cy="153.2" r="0.75"/>
<circle cx="650.5" cy="154.1" r="0.75"/>
<circle cx="648.1" cy="156" r="0.75"/>
<circle cx="616.1" cy="157.8" r="0.75"/>
<circle cx="633.8" cy="158.6" r="0.75"/>
<circle cx="606.5" cy="159.7" r="0.75"/>
<circle cx="607.8" cy="161" r="0.75"/>
<circle cx="638.4" cy="161" r="0.75"/>
<circle cx="642.1" cy="159.7" r="0.75"/>
<circle cx="670.9" cy="157.3" r="0.75"/>
<circle cx="629.1" cy="162.8" r="0.75"/>
<circle cx="632.8" cy="164.3" r="0.75"/>
<circle cx="613.4" cy="165.6" r="0.75"/>
<circle cx="625.4" cy="166.6" r="0.75"/>
<circle cx="622.6" cy="167.5" r="0.75"/>
<circle cx="619.8" cy="169.3" r="0.75"/>
<circle cx="628.2" cy="168" r="0.75"/>
<circle cx="636.2" cy="166.6" r="0.75"/>
<circle cx="638.4" cy="166.2" r="0.75"/>
<circle cx="607.2" cy="169.9" r="0.75"/>
<circle cx="611.5" cy="169.9" r="0.75"/>
<circle cx="616.1" cy="171.8" r="0.75"/>
<circle cx="621.3" cy="172.5" r="0.75"/>
<circle cx="628.2" cy="172.5" r="0.75"/>
<circle cx="631.9" cy="170.6" r="0.75"/>
<circle cx="643.6" cy="173.1" r="0.75"/>
<circle cx="648.6" cy="175.5" r="0.75"/>
<circle cx="606.9" cy="177.3" r="0.75"/>
<circle cx="649.5" cy="166.6" r="0.75"/>
<circle cx="662.5" cy="168.8" r="0.75"/>
<circle cx="669.6" cy="166.6" r="0.75"/>
<circle cx="665.3" cy="164.7" r="0.75"/>
<circle cx="655.9" cy="159.4" r="0.75"/>
<circle cx="682.7" cy="161.1" r="0.75"/>
<circle cx="678" cy="160.5" r="0.75"/>
<circle cx="680.3" cy="161.4" r="0.75"/>
<circle cx="652.8" cy="158.1" r="0.75"/>
<circle cx="662.7" cy="155.2" r="0.75"/>
<circle cx="680.9" cy="159.3" r="0.75"/>
<circle cx="651.2" cy="159.4" r="0.75"/>
<circle cx="663.7" cy="161.6" r="0.75"/>
<circle cx="652.3" cy="161.6" r="0.75"/>
<circle cx="667" cy="162.3" r="0.75"/>
<circle cx="663.9" cy="156" r="0.75"/>
<circle cx="646.5" cy="161.1" r="0.75"/>
<circle cx="646.5" cy="160" r="0.75"/>
<circle cx="674.5" cy="158.9" r="0.75"/>
<circle cx="649" cy="161.5" r="0.75"/>
<circle cx="683.8" cy="160.8" r="0.75"/>
<circle cx="661.2" cy="159.9" r="0.75"/>
<circle cx="671.8" cy="163.2" r="0.75"/>
<circle cx="648.3" cy="159.6" r="0.75"/>
<circle cx="650.6" cy="160.2" r="0.75"/>
<circle cx="654.6" cy="164.4" r="0.75"/>
<circle cx="660.8" cy="163" r="0.75"/>
<circle cx="681.7" cy="159" r="0.75"/>
<circle cx="674.5" cy="159.4" r="0.75"/>
<circle cx="659.4" cy="155.4" r="0.75"/>
<circle cx="670" cy="164.1" r="0.75"/>
<circle cx="671.2" cy="157.5" r="0.75"/>
<circle cx="664.5" cy="157.9" r="0.75"/>
<circle cx="659" cy="162.5" r="0.75"/>
<circle cx="664" cy="155.6" r="0.75"/>
<circle cx="659.5" cy="156.7" r="0.75"/>
<circle cx="667.5" cy="158.7" r="0.75"/>
<circle cx="671" cy="158.7" r="0.75"/>
<circle cx="675.1" cy="160.1" r="0.75"/>
<circle cx="647.3" cy="159.4" r="0.75"/>
<circle cx="653.4" cy="157.3" r="0.75"/>
<circle cx="681.9" cy="159.3" r="0.75"/>
<circle cx="644" cy="164" r="0.75"/>
<circle cx="643.5" cy="162.1" r="0.75"/>
<circle cx="652.6" cy="162.6" r="0.75"/>
<circle cx="663.8" cy="162.8" r="0.75"/>
<circle cx="667.7" cy="159.8" r="0.75"/>
<circle cx="650.7" cy="159.8" r="0.75"/>
<circle cx="667.4" cy="159.1" r="0.75"/>
<circle cx="669.1" cy="160.2" r="0.75"/>
<circle cx="669.5" cy="158.5" r="0.75"/>
<circle cx="677.5" cy="159.8" r="0.75"/>
<circle cx="676.9" cy="162.5" r="0.75"/>
<circle cx="671.3" cy="160.1" r="0.75"/>
<circle cx="670.1" cy="156.7" r="0.75"/>
<circle cx="668.1" cy="160" r="0.75"/>
<circle cx="667.9" cy="158.7" r="0.75"/>
<circle cx="652.8" cy="157.3" r="0.75"/>
<circle cx="671.6" cy="163.7" r="0.75"/>
<circle cx="656.1" cy="157.5" r="0.75"/>
<circle cx="661.4" cy="158.7" r="0.75"/>
<circle cx="668.9" cy="162.3" r="0.75"/>
<circle cx="674.5" cy="162.9" r="0.75"/>
<circle cx="661.4" cy="158.9" r="0.75"/>
<circle cx="669.7" cy="157.5" r="0.75"/>
<circle cx="677" cy="158.6" r="0.75"/>
<circle cx="665.8" cy="159.7" r="0.75"/>
<circle cx="654.4" cy="159.2" r="0.75"/>
<circle cx="643.8" cy="163.7" r="0.75"/>
<circle cx="681.5" cy="161.4" r="0.75"/>
<circle cx="676.8" cy="163.2" r="0.75"/>
<circle cx="650.3" cy="159.5" r="0.75"/>
<circle cx="663.3" cy="163" r="0.75"/>
<circle cx="654.9" cy="161.3" r="0.75"/>
<circle cx="645.4" cy="160.4" r="0.75"/>
<circle cx="667" cy="161.8" r="0.75"/>
<circle cx="660.2" cy="164.3" r="0.75"/>
<circle cx="672.6" cy="160.3" r="0.75"/>
<circle cx="655" cy="160.1" r="0.75"/>
<circle cx="667.6" cy="164.5" r="0.75"/>
<circle cx="681.7" cy="159.1" r="0.75"/>
<circle cx="651.4" cy="162.4" r="0.75"/>
<circle cx="656.1" cy="158.3" r="0.75"/>
<circle cx="649.5" cy="160.3" r="0.75"/>
<circle cx="651.2" cy="159.4" r="0.75"/>
<circle cx="649.1" cy="159.8" r="0.75"/>
<circle cx="654.3" cy="158.7" r="0.75"/>
<circle cx="660.5" cy="156.9" r="0.75"/>
<circle cx="650.4" cy="160" r="0.75"/>
<circle cx="659.1" cy="157.5" r="0.75"/>
<circle cx="656.4" cy="158.2" r="0.75"/>
<circle cx="647.7" cy="160.7" r="0.75"/>
<circle cx="650.7" cy="159.5" r="0.75"/>
<circle cx="651.5" cy="159.8" r="0.75"/>
<path d="M533.5 121.5V201.5H686" class="ax"/>
<text x="669" y="151.65" class="an" style="font-size:2.481px" textLength="20" lengthAdjust="spacingAndGlyphs">Upper LOA: 0.153</text>
<text x="676.5" y="161.85" class="anb" style="font-size:2.205px" textLength="12.5" lengthAdjust="spacingAndGlyphs">Mean: 0.010</text>
<text x="668" y="175.15" class="an" style="font-size:2.502px" textLength="21" lengthAdjust="spacingAndGlyphs">Lower LOA: -0.153</text>
<text x="591" y="211.95" class="xl" style="font-size:2.908px" textLength="41" lengthAdjust="spacing">MEAN: QLU-C10D, SF-6Dv2</text>
<text x="0" y="0" class="xl" style="font-size:2.828px" textLength="46.8" lengthAdjust="spacing" transform="translate(524.85 185.6) rotate(-90)">Difference: QLU-C10D - SF-6Dv2</text>
<text x="1.8" y="219.75" class="let">C</text>
<text x="44" y="225.6" class="tit" style="font-size:4.619px" textLength="92" lengthAdjust="spacing">FRENCH Tariff (Haemato-oncological)</text>
<line x1="17.1" x2="178.3" y1="258.3" y2="258.3" class="loa"/>
<line x1="17.1" x2="178.3" y1="299.3" y2="299.3" class="loa"/>
<line x1="19" x2="178.3" y1="267.5" y2="267.5" class="zer"/>
<line x1="17.1" x2="178.3" y1="279" y2="279" class="mn"/>
<line x1="16.1" x2="17.1" y1="230.6" y2="230.6" class="tk"/>
<text x="16" y="231.55" class="tl" style="font-size:2.7px" text-anchor="end">1.00</text>
<line x1="16.1" x2="17.1" y1="249.38" y2="249.38" class="tk"/>
<text x="16" y="250.32" class="tl" style="font-size:2.7px" text-anchor="end">.50</text>
<line x1="16.1" x2="17.1" y1="268.15" y2="268.15" class="tk"/>
<text x="16" y="269.1" class="tl" style="font-size:2.7px" text-anchor="end">.00</text>
<line x1="16.1" x2="17.1" y1="286.93" y2="286.93" class="tk"/>
<text x="16" y="287.88" class="tl" style="font-size:2.7px" text-anchor="end">-.50</text>
<line x1="16.1" x2="17.1" y1="305.7" y2="305.7" class="tk"/>
<text x="16" y="306.65" class="tl" style="font-size:2.7px" text-anchor="end">-1.00</text>
<line x1="24.8" x2="24.8" y1="309.3" y2="310.3" class="tk"/>
<text x="24.8" y="314.2" class="tl" style="font-size:2.7px" text-anchor="middle">-.20</text>
<line x1="48.9" x2="48.9" y1="309.3" y2="310.3" class="tk"/>
<text x="48.9" y="314.2" class="tl" style="font-size:2.7px" text-anchor="middle">.00</text>
<line x1="73" x2="73" y1="309.3" y2="310.3" class="tk"/>
<text x="73" y="314.2" class="tl" style="font-size:2.7px" text-anchor="middle">.20</text>
<line x1="97.1" x2="97.1" y1="309.3" y2="310.3" class="tk"/>
<text x="97.1" y="314.2" class="tl" style="font-size:2.7px" text-anchor="middle">.40</text>
<line x1="121.2" x2="121.2" y1="309.3" y2="310.3" class="tk"/>
<text x="121.2" y="314.2" class="tl" style="font-size:2.7px" text-anchor="middle">.60</text>
<line x1="145.3" x2="145.3" y1="309.3" y2="310.3" class="tk"/>
<text x="145.3" y="314.2" class="tl" style="font-size:2.7px" text-anchor="middle">.80</text>
<line x1="169.4" x2="169.4" y1="309.3" y2="310.3" class="tk"/>
<text x="169.4" y="314.2" class="tl" style="font-size:2.7px" text-anchor="middle">1.00</text>
<circle cx="44.8" cy="248.7" r="0.75"/>
<circle cx="94.6" cy="244.1" r="0.75"/>
<circle cx="84.7" cy="264.7" r="0.75"/>
<circle cx="95.3" cy="264.7" r="0.75"/>
<circle cx="59.3" cy="268.8" r="0.75"/>
<circle cx="54.1" cy="274.9" r="0.75"/>
<circle cx="69.9" cy="279.4" r="0.75"/>
<circle cx="86.6" cy="277.1" r="0.75"/>
<circle cx="87.5" cy="278.4" r="0.75"/>
<circle cx="60.2" cy="282.3" r="0.75"/>
<circle cx="79.2" cy="284" r="0.75"/>
<circle cx="65.8" cy="287.3" r="0.75"/>
<circle cx="64" cy="294.2" r="0.75"/>
<circle cx="71.8" cy="294.8" r="0.75"/>
<circle cx="95" cy="292.5" r="0.75"/>
<circle cx="95.9" cy="264.5" r="0.75"/>
<circle cx="98.3" cy="262.6" r="0.75"/>
<circle cx="100.6" cy="263.6" r="0.75"/>
<circle cx="122.8" cy="266.7" r="0.75"/>
<circle cx="130.6" cy="265.4" r="0.75"/>
<circle cx="133" cy="264.5" r="0.75"/>
<circle cx="146.6" cy="269.7" r="0.75"/>
<circle cx="161.5" cy="265.4" r="0.75"/>
<circle cx="161.8" cy="268.8" r="0.75"/>
<circle cx="169.2" cy="267.6" r="0.75"/>
<circle cx="139.2" cy="274.7" r="0.75"/>
<circle cx="140.5" cy="273.2" r="0.75"/>
<circle cx="137.7" cy="275.6" r="0.75"/>
<circle cx="143.6" cy="276.6" r="0.75"/>
<circle cx="133.6" cy="279.3" r="0.75"/>
<circle cx="136.8" cy="279.3" r="0.75"/>
<circle cx="132.1" cy="281.8" r="0.75"/>
<circle cx="138.6" cy="283.6" r="0.75"/>
<circle cx="145.1" cy="281.2" r="0.75"/>
<circle cx="145.5" cy="283.1" r="0.75"/>
<circle cx="147.9" cy="278.4" r="0.75"/>
<circle cx="105.2" cy="283.6" r="0.75"/>
<circle cx="99.6" cy="288.1" r="0.75"/>
<circle cx="102.1" cy="288.1" r="0.75"/>
<circle cx="103.4" cy="288.1" r="0.75"/>
<circle cx="95" cy="292.3" r="0.75"/>
<circle cx="120.1" cy="283.1" r="0.75"/>
<circle cx="123.8" cy="286.2" r="0.75"/>
<circle cx="121" cy="288.1" r="0.75"/>
<circle cx="123.8" cy="288.6" r="0.75"/>
<circle cx="127.5" cy="285.5" r="0.75"/>
<circle cx="129" cy="284" r="0.75"/>
<circle cx="130.3" cy="283.1" r="0.75"/>
<circle cx="126.9" cy="290.5" r="0.75"/>
<circle cx="133" cy="290.1" r="0.75"/>
<circle cx="121.9" cy="292.9" r="0.75"/>
<circle cx="113.2" cy="293.3" r="0.75"/>
<circle cx="122.5" cy="297" r="0.75"/>
<circle cx="109.8" cy="300.3" r="0.75"/>
<circle cx="110.8" cy="302.2" r="0.75"/>
<circle cx="104.3" cy="304.4" r="0.75"/>
<circle cx="134" cy="284.9" r="0.75"/>
<circle cx="150.7" cy="274.7" r="0.75"/>
<circle cx="154.4" cy="273.8" r="0.75"/>
<circle cx="157.2" cy="271.9" r="0.75"/>
<circle cx="160" cy="271" r="0.75"/>
<circle cx="135.5" cy="280.6" r="0.75"/>
<circle cx="154.5" cy="274.7" r="0.75"/>
<circle cx="164.2" cy="270.3" r="0.75"/>
<circle cx="162.2" cy="271.7" r="0.75"/>
<circle cx="155.2" cy="273.6" r="0.75"/>
<circle cx="154.1" cy="274.9" r="0.75"/>
<circle cx="149.3" cy="276.8" r="0.75"/>
<circle cx="155.2" cy="274.8" r="0.75"/>
<circle cx="157.8" cy="272.9" r="0.75"/>
<circle cx="152.6" cy="275.6" r="0.75"/>
<circle cx="163.2" cy="269.8" r="0.75"/>
<circle cx="154.2" cy="274.9" r="0.75"/>
<circle cx="152.5" cy="275.9" r="0.75"/>
<circle cx="162.4" cy="270" r="0.75"/>
<circle cx="159.8" cy="272.2" r="0.75"/>
<circle cx="158.4" cy="271.6" r="0.75"/>
<circle cx="151.2" cy="275.6" r="0.75"/>
<circle cx="152.5" cy="274.5" r="0.75"/>
<circle cx="157.2" cy="272.9" r="0.75"/>
<circle cx="150.6" cy="276.1" r="0.75"/>
<circle cx="150.9" cy="276.1" r="0.75"/>
<circle cx="160.7" cy="271.5" r="0.75"/>
<circle cx="153.7" cy="275.1" r="0.75"/>
<circle cx="155.2" cy="273.9" r="0.75"/>
<circle cx="155.4" cy="273.6" r="0.75"/>
<circle cx="150.6" cy="277.6" r="0.75"/>
<circle cx="164.1" cy="270.2" r="0.75"/>
<line x1="149.5" y1="277" x2="163.5" y2="270" class="stk" style="stroke-width:1.4"/>
<path d="M17.1 226.3V309.3H177.4" class="ax"/>
<text x="156.3" y="256.55" class="an" style="font-size:2.729px" textLength="22" lengthAdjust="spacingAndGlyphs">Upper LOA: 0.250</text>
<text x="161.8" y="282.35" class="anb" style="font-size:2.749px" textLength="16.5" lengthAdjust="spacingAndGlyphs">Mean: -0.298</text>
<text x="155" y="302.45" class="an" style="font-size:2.776px" textLength="23.3" lengthAdjust="spacingAndGlyphs">Lower LOA: -0.847</text>
<text x="75" y="319.65" class="xl" style="font-size:3.048px" textLength="44.8" lengthAdjust="spacing">MEAN: QLU-C10D, EQ-5D-5L</text>
<text x="0" y="0" class="xl" style="font-size:2.910px" textLength="49.9" lengthAdjust="spacing" transform="translate(5.05 292.8) rotate(-90)">Difference: QLU-C10D - EQ-5D-5L</text>
<text x="181.2" y="219.65" class="let">F</text>
<text x="214.5" y="225.8" class="tit" style="font-size:4.494px" textLength="90.9" lengthAdjust="spacing">GERMAN Tariff (Haemato-oncological)</text>
<line x1="189.3" x2="346" y1="253.6" y2="253.6" class="loa"/>
<line x1="189.3" x2="346" y1="290.6" y2="290.6" class="loa"/>
<line x1="191" x2="346" y1="267.5" y2="267.5" class="zer"/>
<line x1="189.3" x2="346" y1="272.5" y2="272.5" class="mn"/>
<line x1="188.3" x2="189.3" y1="231" y2="231" class="tk"/>
<text x="188.2" y="231.95" class="tl" style="font-size:2.7px" text-anchor="end">1.00</text>
<line x1="188.3" x2="189.3" y1="249.55" y2="249.55" class="tk"/>
<text x="188.2" y="250.5" class="tl" style="font-size:2.7px" text-anchor="end">.50</text>
<line x1="188.3" x2="189.3" y1="268.1" y2="268.1" class="tk"/>
<text x="188.2" y="269.05" class="tl" style="font-size:2.7px" text-anchor="end">.00</text>
<line x1="188.3" x2="189.3" y1="286.65" y2="286.65" class="tk"/>
<text x="188.2" y="287.6" class="tl" style="font-size:2.7px" text-anchor="end">-.50</text>
<line x1="188.3" x2="189.3" y1="305.2" y2="305.2" class="tk"/>
<text x="188.2" y="306.15" class="tl" style="font-size:2.7px" text-anchor="end">-1.00</text>
<line x1="197" x2="197" y1="309.3" y2="310.3" class="tk"/>
<text x="197" y="314.2" class="tl" style="font-size:2.7px" text-anchor="middle">-.20</text>
<line x1="220.42" x2="220.42" y1="309.3" y2="310.3" class="tk"/>
<text x="220.42" y="314.2" class="tl" style="font-size:2.7px" text-anchor="middle">.00</text>
<line x1="243.83" x2="243.83" y1="309.3" y2="310.3" class="tk"/>
<text x="243.83" y="314.2" class="tl" style="font-size:2.7px" text-anchor="middle">.20</text>
<line x1="267.25" x2="267.25" y1="309.3" y2="310.3" class="tk"/>
<text x="267.25" y="314.2" class="tl" style="font-size:2.7px" text-anchor="middle">.40</text>
<line x1="290.67" x2="290.67" y1="309.3" y2="310.3" class="tk"/>
<text x="290.67" y="314.2" class="tl" style="font-size:2.7px" text-anchor="middle">.60</text>
<line x1="314.08" x2="314.08" y1="309.3" y2="310.3" class="tk"/>
<text x="314.08" y="314.2" class="tl" style="font-size:2.7px" text-anchor="middle">.80</text>
<line x1="337.5" x2="337.5" y1="309.3" y2="310.3" class="tk"/>
<text x="337.5" y="314.2" class="tl" style="font-size:2.7px" text-anchor="middle">1.00</text>
<circle cx="217.4" cy="244.3" r="0.75"/>
<circle cx="264.5" cy="235.9" r="0.75"/>
<circle cx="230.8" cy="261" r="0.75"/>
<circle cx="235.4" cy="261.4" r="0.75"/>
<circle cx="235.8" cy="267.1" r="0.75"/>
<circle cx="243.2" cy="271.2" r="0.75"/>
<circle cx="246.9" cy="275.3" r="0.75"/>
<circle cx="254.3" cy="280.5" r="0.75"/>
<circle cx="260.1" cy="278.1" r="0.75"/>
<circle cx="253" cy="257.6" r="0.75"/>
<circle cx="264.7" cy="259.7" r="0.75"/>
<circle cx="263.6" cy="261.5" r="0.75"/>
<circle cx="268.4" cy="257.3" r="0.75"/>
<circle cx="299.9" cy="255.8" r="0.75"/>
<circle cx="268.7" cy="257.3" r="0.75"/>
<circle cx="270.2" cy="261.4" r="0.75"/>
<circle cx="269.8" cy="263.2" r="0.75"/>
<circle cx="285.8" cy="258.8" r="0.75"/>
<circle cx="273.9" cy="269.9" r="0.75"/>
<circle cx="287.6" cy="270.3" r="0.75"/>
<circle cx="294.7" cy="271.8" r="0.75"/>
<circle cx="283.6" cy="276.2" r="0.75"/>
<circle cx="283.6" cy="278.8" r="0.75"/>
<circle cx="274.3" cy="281" r="0.75"/>
<circle cx="277.4" cy="287.3" r="0.75"/>
<circle cx="299.9" cy="273.1" r="0.75"/>
<circle cx="299.9" cy="276.8" r="0.75"/>
<circle cx="300.3" cy="278.1" r="0.75"/>
<circle cx="303.1" cy="280.5" r="0.75"/>
<circle cx="304.5" cy="279.9" r="0.75"/>
<circle cx="306.2" cy="279.5" r="0.75"/>
<circle cx="308.1" cy="279.9" r="0.75"/>
<circle cx="304.9" cy="283.6" r="0.75"/>
<circle cx="292.5" cy="284.7" r="0.75"/>
<circle cx="293.8" cy="283.6" r="0.75"/>
<circle cx="304.4" cy="269.9" r="0.75"/>
<circle cx="305.5" cy="274.4" r="0.75"/>
<circle cx="309.5" cy="273.1" r="0.75"/>
<circle cx="309.5" cy="274.9" r="0.75"/>
<circle cx="310.5" cy="276.2" r="0.75"/>
<circle cx="312.9" cy="276.8" r="0.75"/>
<circle cx="314.7" cy="277.3" r="0.75"/>
<circle cx="317.9" cy="278.1" r="0.75"/>
<circle cx="318.8" cy="279.5" r="0.75"/>
<circle cx="316.6" cy="274.4" r="0.75"/>
<circle cx="320.7" cy="274" r="0.75"/>
<circle cx="324.8" cy="275.5" r="0.75"/>
<circle cx="303.1" cy="290.3" r="0.75"/>
<circle cx="297.5" cy="293.5" r="0.75"/>
<circle cx="290.1" cy="294" r="0.75"/>
<circle cx="283.2" cy="294" r="0.75"/>
<circle cx="311" cy="266.2" r="0.75"/>
<circle cx="313.6" cy="266.6" r="0.75"/>
<circle cx="315.5" cy="267" r="0.75"/>
<circle cx="321.6" cy="268" r="0.75"/>
<circle cx="326.3" cy="269.3" r="0.75"/>
<circle cx="330" cy="265.6" r="0.75"/>
<circle cx="331.4" cy="264.7" r="0.75"/>
<circle cx="334.6" cy="266.2" r="0.75"/>
<circle cx="336.5" cy="268.4" r="0.75"/>
<circle cx="328.1" cy="272.1" r="0.75"/>
<circle cx="329" cy="270.3" r="0.75"/>
<circle cx="324.4" cy="271.2" r="0.75"/>
<circle cx="318.8" cy="271.2" r="0.75"/>
<circle cx="320.7" cy="270.3" r="0.75"/>
<circle cx="328" cy="268.5" r="0.75"/>
<circle cx="315.2" cy="270.2" r="0.75"/>
<circle cx="323.3" cy="270.6" r="0.75"/>
<circle cx="311.3" cy="266.6" r="0.75"/>
<circle cx="313.4" cy="271.5" r="0.75"/>
<circle cx="324.4" cy="266.5" r="0.75"/>
<circle cx="333.4" cy="269" r="0.75"/>
<circle cx="318.7" cy="267.6" r="0.75"/>
<circle cx="336.4" cy="269.2" r="0.75"/>
<circle cx="338.2" cy="269.2" r="0.75"/>
<circle cx="330.4" cy="264.6" r="0.75"/>
<circle cx="323.1" cy="269.9" r="0.75"/>
<circle cx="322.3" cy="270.4" r="0.75"/>
<circle cx="320.3" cy="270.4" r="0.75"/>
<circle cx="316.2" cy="268.6" r="0.75"/>
<circle cx="322.8" cy="269" r="0.75"/>
<circle cx="331.5" cy="265.2" r="0.75"/>
<circle cx="324.3" cy="273.9" r="0.75"/>
<circle cx="328.3" cy="271.2" r="0.75"/>
<circle cx="321.6" cy="267.7" r="0.75"/>
<circle cx="324.1" cy="266.4" r="0.75"/>
<circle cx="326.7" cy="271.2" r="0.75"/>
<circle cx="335.8" cy="268.8" r="0.75"/>
<circle cx="330.8" cy="264.3" r="0.75"/>
<circle cx="328.5" cy="268.6" r="0.75"/>
<circle cx="325.3" cy="267.8" r="0.75"/>
<circle cx="333.8" cy="268.9" r="0.75"/>
<circle cx="311.2" cy="270" r="0.75"/>
<circle cx="334.9" cy="270.3" r="0.75"/>
<circle cx="315.5" cy="268.8" r="0.75"/>
<path d="M189.3 227V309.3H345.8" class="ax"/>
<text x="324.7" y="256.55" class="an" style="font-size:2.643px" textLength="21.3" lengthAdjust="spacingAndGlyphs">Upper LOA: 0.389</text>
<text x="332.1" y="274.45" class="anb" style="font-size:2.316px" textLength="13.9" lengthAdjust="spacingAndGlyphs">Mean: -0.128</text>
<text x="324" y="293.05" class="an" style="font-size:2.621px" textLength="22" lengthAdjust="spacingAndGlyphs">Lower LOA: -0.571</text>
<text x="246.9" y="319.65" class="xl" style="font-size:2.892px" textLength="42.5" lengthAdjust="spacing">MEAN: QLU-C10D, EQ-5D-5L</text>
<text x="349.5" y="219.95" class="let">I</text>
<text x="390" y="226.5" class="tit" style="font-size:4.517px" textLength="79.1" lengthAdjust="spacing">UK Tariffs (Haemato-oncological)</text>
<line x1="358.4" x2="516" y1="256.2" y2="256.2" class="loa"/>
<line x1="358.4" x2="516" y1="290.5" y2="290.5" class="loa"/>
<line x1="360" x2="516" y1="268.5" y2="268.5" class="zer"/>
<line x1="358.4" x2="516" y1="273" y2="273" class="mn"/>
<line x1="357.4" x2="358.4" y1="231.5" y2="231.5" class="tk"/>
<text x="357.3" y="232.45" class="tl" style="font-size:2.7px" text-anchor="end">1.00</text>
<line x1="357.4" x2="358.4" y1="250.03" y2="250.03" class="tk"/>
<text x="357.3" y="250.97" class="tl" style="font-size:2.7px" text-anchor="end">.50</text>
<line x1="357.4" x2="358.4" y1="268.55" y2="268.55" class="tk"/>
<text x="357.3" y="269.5" class="tl" style="font-size:2.7px" text-anchor="end">.00</text>
<line x1="357.4" x2="358.4" y1="287.08" y2="287.08" class="tk"/>
<text x="357.3" y="288.03" class="tl" style="font-size:2.7px" text-anchor="end">-.50</text>
<line x1="357.4" x2="358.4" y1="305.6" y2="305.6" class="tk"/>
<text x="357.3" y="306.55" class="tl" style="font-size:2.7px" text-anchor="end">-1.00</text>
<line x1="366.4" x2="366.4" y1="309.3" y2="310.3" class="tk"/>
<text x="366.4" y="314.2" class="tl" style="font-size:2.7px" text-anchor="middle">-.20</text>
<line x1="389.93" x2="389.93" y1="309.3" y2="310.3" class="tk"/>
<text x="389.93" y="314.2" class="tl" style="font-size:2.7px" text-anchor="middle">.00</text>
<line x1="413.47" x2="413.47" y1="309.3" y2="310.3" class="tk"/>
<text x="413.47" y="314.2" class="tl" style="font-size:2.7px" text-anchor="middle">.20</text>
<line x1="437" x2="437" y1="309.3" y2="310.3" class="tk"/>
<text x="437" y="314.2" class="tl" style="font-size:2.7px" text-anchor="middle">.40</text>
<line x1="460.53" x2="460.53" y1="309.3" y2="310.3" class="tk"/>
<text x="460.53" y="314.2" class="tl" style="font-size:2.7px" text-anchor="middle">.60</text>
<line x1="484.07" x2="484.07" y1="309.3" y2="310.3" class="tk"/>
<text x="484.07" y="314.2" class="tl" style="font-size:2.7px" text-anchor="middle">.80</text>
<line x1="507.6" x2="507.6" y1="309.3" y2="310.3" class="tk"/>
<text x="507.6" y="314.2" class="tl" style="font-size:2.7px" text-anchor="middle">1.00</text>
<circle cx="405.3" cy="253" r="0.75"/>
<circle cx="406.6" cy="262.6" r="0.75"/>
<circle cx="405.9" cy="267.8" r="0.75"/>
<circle cx="414.6" cy="266.9" r="0.75"/>
<circle cx="422.6" cy="267.8" r="0.75"/>
<circle cx="425.7" cy="262.3" r="0.75"/>
<circle cx="425.7" cy="270.1" r="0.75"/>
<circle cx="431.3" cy="267.5" r="0.75"/>
<circle cx="421.1" cy="274.9" r="0.75"/>
<circle cx="435" cy="259.5" r="0.75"/>
<circle cx="436.9" cy="259.5" r="0.75"/>
<circle cx="437.8" cy="278.1" r="0.75"/>
<circle cx="410.9" cy="284" r="0.75"/>
<circle cx="414.6" cy="281.8" r="0.75"/>
<circle cx="439.6" cy="245.6" r="0.75"/>
<circle cx="435.9" cy="259.1" r="0.75"/>
<circle cx="436.9" cy="259.1" r="0.75"/>
<circle cx="442.8" cy="260" r="0.75"/>
<circle cx="452.6" cy="263.8" r="0.75"/>
<circle cx="469.9" cy="258.2" r="0.75"/>
<circle cx="474.4" cy="259.5" r="0.75"/>
<circle cx="473.6" cy="266.9" r="0.75"/>
<circle cx="474.4" cy="268.2" r="0.75"/>
<circle cx="473.6" cy="269.3" r="0.75"/>
<circle cx="475.5" cy="267.5" r="0.75"/>
<circle cx="484.7" cy="269.3" r="0.75"/>
<circle cx="487.9" cy="270.1" r="0.75"/>
<circle cx="490.3" cy="269.3" r="0.75"/>
<circle cx="494.4" cy="263.2" r="0.75"/>
<circle cx="495.9" cy="266" r="0.75"/>
<circle cx="492.5" cy="267.8" r="0.75"/>
<circle cx="499" cy="267.5" r="0.75"/>
<circle cx="500.9" cy="268.2" r="0.75"/>
<circle cx="504.6" cy="266" r="0.75"/>
<circle cx="506.5" cy="268.8" r="0.75"/>
<circle cx="437.8" cy="278.1" r="0.75"/>
<circle cx="443.9" cy="274.9" r="0.75"/>
<circle cx="444.7" cy="277.1" r="0.75"/>
<circle cx="455.8" cy="273.8" r="0.75"/>
<circle cx="455.8" cy="276.2" r="0.75"/>
<circle cx="462.8" cy="278.1" r="0.75"/>
<circle cx="465.6" cy="277.1" r="0.75"/>
<circle cx="466.2" cy="273" r="0.75"/>
<circle cx="468.4" cy="275.3" r="0.75"/>
<circle cx="469.3" cy="273.4" r="0.75"/>
<circle cx="473.6" cy="276.8" r="0.75"/>
<circle cx="474.9" cy="275.6" r="0.75"/>
<circle cx="478.1" cy="274.3" r="0.75"/>
<circle cx="479.5" cy="272.5" r="0.75"/>
<circle cx="482.3" cy="274.9" r="0.75"/>
<circle cx="484.2" cy="275.3" r="0.75"/>
<circle cx="486" cy="277.1" r="0.75"/>
<circle cx="490.3" cy="275.6" r="0.75"/>
<circle cx="496.3" cy="274.9" r="0.75"/>
<circle cx="476.8" cy="279.4" r="0.75"/>
<circle cx="475.5" cy="282.3" r="0.75"/>
<circle cx="487.9" cy="280.5" r="0.75"/>
<circle cx="466.6" cy="281.8" r="0.75"/>
<circle cx="468" cy="282.7" r="0.75"/>
<circle cx="469.9" cy="282.7" r="0.75"/>
<circle cx="462.5" cy="282.7" r="0.75"/>
<circle cx="457.3" cy="283.6" r="0.75"/>
<circle cx="453.2" cy="285.5" r="0.75"/>
<circle cx="479.5" cy="286" r="0.75"/>
<circle cx="443.9" cy="288.6" r="0.75"/>
<circle cx="470.3" cy="292" r="0.75"/>
<circle cx="448.9" cy="295.1" r="0.75"/>
<circle cx="451.7" cy="297.2" r="0.75"/>
<circle cx="455.8" cy="296.1" r="0.75"/>
<circle cx="464.3" cy="295.7" r="0.75"/>
<circle cx="500" cy="270.6" r="0.75"/>
<circle cx="496.5" cy="271.9" r="0.75"/>
<circle cx="503" cy="269.5" r="0.75"/>
<circle cx="506.7" cy="268" r="0.75"/>
<circle cx="506.6" cy="268.2" r="0.75"/>
<circle cx="504.4" cy="269" r="0.75"/>
<circle cx="495.5" cy="273.3" r="0.75"/>
<circle cx="501.8" cy="270.3" r="0.75"/>
<circle cx="497" cy="272.5" r="0.75"/>
<circle cx="502.3" cy="269.7" r="0.75"/>
<circle cx="503.5" cy="268.8" r="0.75"/>
<circle cx="500.1" cy="271.2" r="0.75"/>
<circle cx="497" cy="272.4" r="0.75"/>
<circle cx="505.6" cy="268.4" r="0.75"/>
<line x1="495" y1="273.2" x2="507" y2="268" class="stk" style="stroke-width:1.1"/>
<path d="M358.4 227.3V309.3H515.8" class="ax"/>
<text x="494.7" y="255.55" class="an" style="font-size:2.643px" textLength="21.3" lengthAdjust="spacingAndGlyphs">Upper LOA: 0.328</text>
<text x="500.6" y="276.05" class="anb" style="font-size:2.566px" textLength="15.4" lengthAdjust="spacingAndGlyphs">Mean: -0.131</text>
<text x="494" y="293.05" class="an" style="font-size:2.621px" textLength="22" lengthAdjust="spacingAndGlyphs">Lower LOA: -0.590</text>
<text x="414.8" y="319.65" class="xl" style="font-size:3.008px" textLength="44.2" lengthAdjust="spacing">MEAN: QLU-C10D, EQ-5D-5L</text>
<text x="519.8" y="219.75" class="let">L</text>
<text x="564.8" y="226.5" class="tit" style="font-size:4.528px" textLength="79.3" lengthAdjust="spacing">UK Tariffs (Haemato-oncological)</text>
<line x1="533.4" x2="686" y1="258" y2="258" class="loa"/>
<line x1="533.4" x2="686" y1="284.5" y2="284.5" class="loa"/>
<line x1="535" x2="686" y1="268.5" y2="268.5" class="zer"/>
<line x1="533.4" x2="686" y1="271.2" y2="271.2" class="mn"/>
<line x1="532.4" x2="533.4" y1="231.3" y2="231.3" class="tk"/>
<text x="532.3" y="232.25" class="tl" style="font-size:2.7px" text-anchor="end">1.00</text>
<line x1="532.4" x2="533.4" y1="249.8" y2="249.8" class="tk"/>
<text x="532.3" y="250.75" class="tl" style="font-size:2.7px" text-anchor="end">.50</text>
<line x1="532.4" x2="533.4" y1="268.3" y2="268.3" class="tk"/>
<text x="532.3" y="269.25" class="tl" style="font-size:2.7px" text-anchor="end">.00</text>
<line x1="532.4" x2="533.4" y1="286.8" y2="286.8" class="tk"/>
<text x="532.3" y="287.75" class="tl" style="font-size:2.7px" text-anchor="end">-.50</text>
<line x1="532.4" x2="533.4" y1="305.3" y2="305.3" class="tk"/>
<text x="532.3" y="306.25" class="tl" style="font-size:2.7px" text-anchor="end">-1.00</text>
<line x1="541.6" x2="541.6" y1="309" y2="310" class="tk"/>
<text x="541.6" y="313.9" class="tl" style="font-size:2.7px" text-anchor="middle">-.20</text>
<line x1="565.17" x2="565.17" y1="309" y2="310" class="tk"/>
<text x="565.17" y="313.9" class="tl" style="font-size:2.7px" text-anchor="middle">.00</text>
<line x1="588.73" x2="588.73" y1="309" y2="310" class="tk"/>
<text x="588.73" y="313.9" class="tl" style="font-size:2.7px" text-anchor="middle">.20</text>
<line x1="612.3" x2="612.3" y1="309" y2="310" class="tk"/>
<text x="612.3" y="313.9" class="tl" style="font-size:2.7px" text-anchor="middle">.40</text>
<line x1="635.87" x2="635.87" y1="309" y2="310" class="tk"/>
<text x="635.87" y="313.9" class="tl" style="font-size:2.7px" text-anchor="middle">.60</text>
<line x1="659.43" x2="659.43" y1="309" y2="310" class="tk"/>
<text x="659.43" y="313.9" class="tl" style="font-size:2.7px" text-anchor="middle">.80</text>
<line x1="683" x2="683" y1="309" y2="310" class="tk"/>
<text x="683" y="313.9" class="tl" style="font-size:2.7px" text-anchor="middle">1.00</text>
<circle cx="586.7" cy="279.9" r="0.75"/>
<circle cx="588.9" cy="284.9" r="0.75"/>
<circle cx="606.2" cy="268.8" r="0.75"/>
<circle cx="603.4" cy="274.9" r="0.75"/>
<circle cx="606.7" cy="274" r="0.75"/>
<circle cx="604.3" cy="276.8" r="0.75"/>
<circle cx="604.3" cy="279" r="0.75"/>
<circle cx="603.4" cy="281.8" r="0.75"/>
<circle cx="609.3" cy="282.3" r="0.75"/>
<circle cx="659.8" cy="253.9" r="0.75"/>
<circle cx="650.1" cy="257.1" r="0.75"/>
<circle cx="618.9" cy="260.4" r="0.75"/>
<circle cx="644.4" cy="261.3" r="0.75"/>
<circle cx="642.1" cy="263.2" r="0.75"/>
<circle cx="638.4" cy="265.6" r="0.75"/>
<circle cx="646.2" cy="264.1" r="0.75"/>
<circle cx="651" cy="263.2" r="0.75"/>
<circle cx="655.1" cy="264.7" r="0.75"/>
<circle cx="659.8" cy="263.2" r="0.75"/>
<circle cx="663.5" cy="263.8" r="0.75"/>
<circle cx="668.7" cy="263.8" r="0.75"/>
<circle cx="674.6" cy="264.5" r="0.75"/>
<circle cx="606.9" cy="268.8" r="0.75"/>
<circle cx="623.6" cy="269.3" r="0.75"/>
<circle cx="635.6" cy="269.3" r="0.75"/>
<circle cx="640.3" cy="268.8" r="0.75"/>
<circle cx="646.8" cy="267.8" r="0.75"/>
<circle cx="652.3" cy="270.6" r="0.75"/>
<circle cx="655.1" cy="271.2" r="0.75"/>
<circle cx="660.7" cy="267.8" r="0.75"/>
<circle cx="666.3" cy="267.8" r="0.75"/>
<circle cx="670" cy="267.5" r="0.75"/>
<circle cx="675.5" cy="269.3" r="0.75"/>
<circle cx="611.5" cy="270.6" r="0.75"/>
<circle cx="613.4" cy="270.6" r="0.75"/>
<circle cx="629.1" cy="271.2" r="0.75"/>
<circle cx="637.5" cy="271.9" r="0.75"/>
<circle cx="641.2" cy="272.5" r="0.75"/>
<circle cx="646.8" cy="270.6" r="0.75"/>
<circle cx="606.9" cy="274.3" r="0.75"/>
<circle cx="617.6" cy="274.9" r="0.75"/>
<circle cx="626.3" cy="275.3" r="0.75"/>
<circle cx="631" cy="275.6" r="0.75"/>
<circle cx="633.8" cy="273.4" r="0.75"/>
<circle cx="640.3" cy="273.8" r="0.75"/>
<circle cx="644" cy="275.3" r="0.75"/>
<circle cx="657.9" cy="274.3" r="0.75"/>
<circle cx="670.9" cy="271.6" r="0.75"/>
<circle cx="670.9" cy="275.3" r="0.75"/>
<circle cx="614.3" cy="278.1" r="0.75"/>
<circle cx="616.1" cy="278.1" r="0.75"/>
<circle cx="621.7" cy="277.1" r="0.75"/>
<circle cx="624.5" cy="279" r="0.75"/>
<circle cx="633.8" cy="279" r="0.75"/>
<circle cx="638" cy="279" r="0.75"/>
<circle cx="642.1" cy="276.8" r="0.75"/>
<circle cx="609.1" cy="282.3" r="0.75"/>
<circle cx="618.9" cy="281.8" r="0.75"/>
<circle cx="619.5" cy="283.6" r="0.75"/>
<circle cx="645.5" cy="282.3" r="0.75"/>
<circle cx="613.9" cy="288.6" r="0.75"/>
<circle cx="618.4" cy="288.6" r="0.75"/>
<circle cx="605" cy="279" r="0.75"/>
<circle cx="646.6" cy="266.8" r="0.75"/>
<circle cx="653.6" cy="265.6" r="0.75"/>
<circle cx="646.4" cy="268.4" r="0.75"/>
<circle cx="651.9" cy="266.6" r="0.75"/>
<circle cx="645.7" cy="268.9" r="0.75"/>
<circle cx="653.7" cy="269.1" r="0.75"/>
<circle cx="650.1" cy="265.8" r="0.75"/>
<circle cx="651.7" cy="268.1" r="0.75"/>
<circle cx="671.3" cy="268.5" r="0.75"/>
<circle cx="668" cy="269.4" r="0.75"/>
<circle cx="667.6" cy="267.3" r="0.75"/>
<circle cx="669.4" cy="268.7" r="0.75"/>
<circle cx="668.9" cy="269.3" r="0.75"/>
<circle cx="665.7" cy="269.1" r="0.75"/>
<circle cx="671.8" cy="266.9" r="0.75"/>
<circle cx="663.3" cy="267.9" r="0.75"/>
<path d="M533.4 226.9V309H686" class="ax"/>
<text x="669" y="256.95" class="an" style="font-size:2.481px" textLength="20" lengthAdjust="spacingAndGlyphs">Upper LOA: 0.283</text>
<text x="675.5" y="273.85" class="anb" style="font-size:2.249px" textLength="13.5" lengthAdjust="spacingAndGlyphs">Mean: -0.043</text>
<text x="668" y="287.25" class="an" style="font-size:2.502px" textLength="21" lengthAdjust="spacingAndGlyphs">Lower LOA: -0.369</text>
<text x="591.3" y="318.95" class="xl" style="font-size:2.894px" textLength="40.8" lengthAdjust="spacing">MEAN: QLU-C10D, SF-6Dv2</text>
<text x="0" y="0" class="xl" style="font-size:2.840px" textLength="47" lengthAdjust="spacing" transform="translate(524.65 291.8) rotate(-90)">Difference: QLU-C10D - SF-6Dv2</text>
<rect x="1.1" y="320.7" width="684" height="2.3" fill="#c6c6c6"/>
<circle cx="1.5" cy="321.5" r="0.6" style="fill:#777;stroke:none"/>
</svg></body></html>
